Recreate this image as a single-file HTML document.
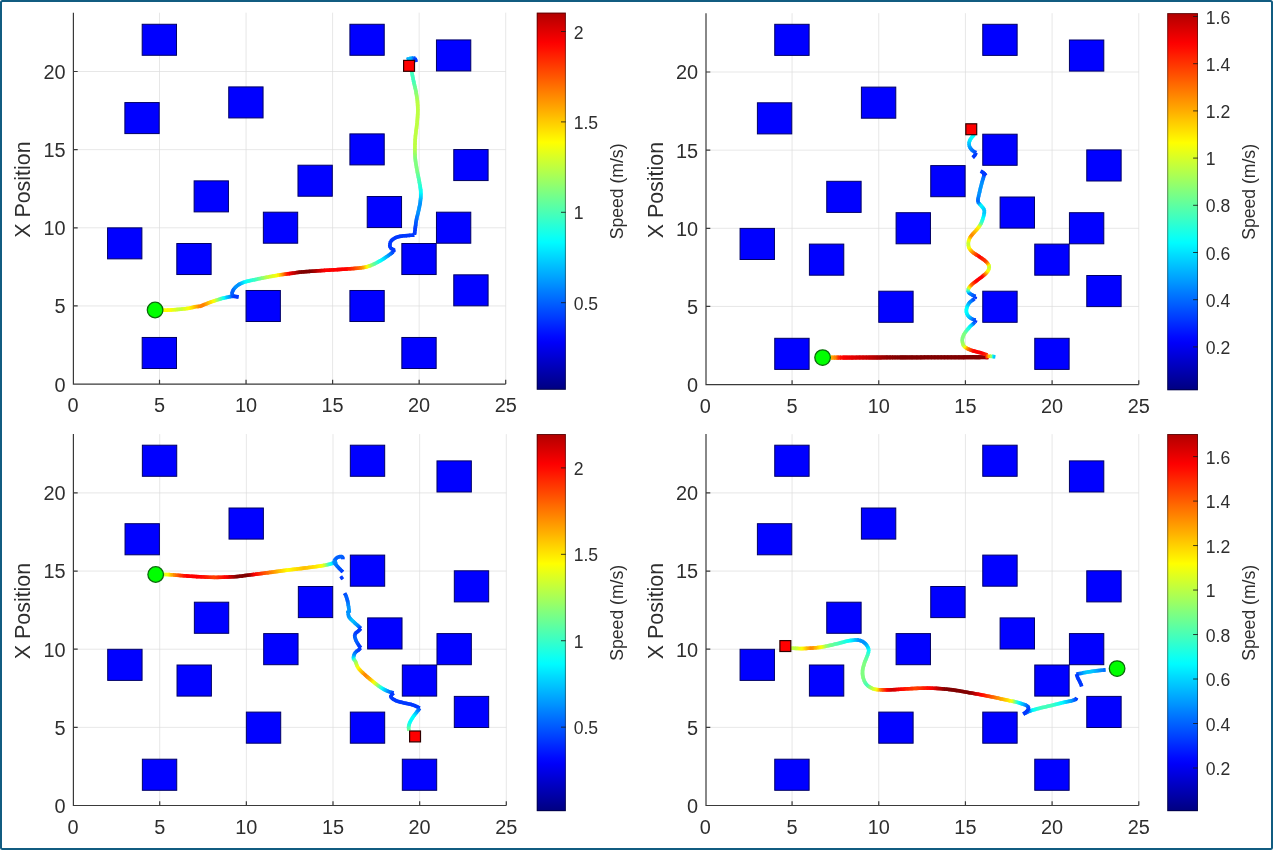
<!DOCTYPE html>
<html lang="en"><head><meta charset="utf-8"><title>Trajectories</title>
<style>html,body{margin:0;padding:0;background:#fff}body{width:1274px;height:851px;overflow:hidden}svg{display:block}text{font-family:'Liberation Sans', Arial, Helvetica, sans-serif;fill:#2e2e2e}</style></head><body>
<svg width="1274" height="851" viewBox="0 0 1274 851">
<defs><linearGradient id="jet" x1="0" y1="1" x2="0" y2="0">
<stop offset="0.0000" stop-color="#000080"/>
<stop offset="0.0156" stop-color="#00008f"/>
<stop offset="0.0312" stop-color="#00009e"/>
<stop offset="0.0469" stop-color="#0000ad"/>
<stop offset="0.0625" stop-color="#0000bc"/>
<stop offset="0.0781" stop-color="#0000cb"/>
<stop offset="0.0938" stop-color="#0000db"/>
<stop offset="0.1094" stop-color="#0000ea"/>
<stop offset="0.1250" stop-color="#0000f9"/>
<stop offset="0.1406" stop-color="#0009ff"/>
<stop offset="0.1562" stop-color="#0018ff"/>
<stop offset="0.1719" stop-color="#0027ff"/>
<stop offset="0.1875" stop-color="#0037ff"/>
<stop offset="0.2031" stop-color="#0046ff"/>
<stop offset="0.2188" stop-color="#0055ff"/>
<stop offset="0.2344" stop-color="#0064ff"/>
<stop offset="0.2500" stop-color="#0073ff"/>
<stop offset="0.2656" stop-color="#0082ff"/>
<stop offset="0.2812" stop-color="#0092ff"/>
<stop offset="0.2969" stop-color="#00a1ff"/>
<stop offset="0.3125" stop-color="#00b0ff"/>
<stop offset="0.3281" stop-color="#00bfff"/>
<stop offset="0.3438" stop-color="#00ceff"/>
<stop offset="0.3594" stop-color="#00ddff"/>
<stop offset="0.3750" stop-color="#00edff"/>
<stop offset="0.3906" stop-color="#00fcff"/>
<stop offset="0.4062" stop-color="#0cfff3"/>
<stop offset="0.4219" stop-color="#1bffe4"/>
<stop offset="0.4375" stop-color="#2affd5"/>
<stop offset="0.4531" stop-color="#3affc5"/>
<stop offset="0.4688" stop-color="#49ffb6"/>
<stop offset="0.4844" stop-color="#58ffa7"/>
<stop offset="0.5000" stop-color="#67ff98"/>
<stop offset="0.5156" stop-color="#76ff89"/>
<stop offset="0.5312" stop-color="#85ff7a"/>
<stop offset="0.5469" stop-color="#95ff6a"/>
<stop offset="0.5625" stop-color="#a4ff5b"/>
<stop offset="0.5781" stop-color="#b3ff4c"/>
<stop offset="0.5938" stop-color="#c2ff3d"/>
<stop offset="0.6094" stop-color="#d1ff2e"/>
<stop offset="0.6250" stop-color="#e0ff1f"/>
<stop offset="0.6406" stop-color="#f0ff0f"/>
<stop offset="0.6562" stop-color="#ffff00"/>
<stop offset="0.6719" stop-color="#fff000"/>
<stop offset="0.6875" stop-color="#ffe100"/>
<stop offset="0.7031" stop-color="#ffd200"/>
<stop offset="0.7188" stop-color="#ffc300"/>
<stop offset="0.7344" stop-color="#ffb300"/>
<stop offset="0.7500" stop-color="#ffa400"/>
<stop offset="0.7656" stop-color="#ff9500"/>
<stop offset="0.7812" stop-color="#ff8600"/>
<stop offset="0.7969" stop-color="#ff7700"/>
<stop offset="0.8125" stop-color="#ff6800"/>
<stop offset="0.8281" stop-color="#ff5800"/>
<stop offset="0.8438" stop-color="#ff4900"/>
<stop offset="0.8594" stop-color="#ff3a00"/>
<stop offset="0.8750" stop-color="#ff2b00"/>
<stop offset="0.8906" stop-color="#ff1c00"/>
<stop offset="0.9062" stop-color="#ff0c00"/>
<stop offset="0.9219" stop-color="#fc0000"/>
<stop offset="0.9375" stop-color="#ed0000"/>
<stop offset="0.9531" stop-color="#de0000"/>
<stop offset="0.9688" stop-color="#cf0000"/>
<stop offset="0.9844" stop-color="#c00000"/>
<stop offset="1.0000" stop-color="#b00000"/>
</linearGradient></defs>
<rect x="0" y="0" width="1274" height="851" fill="#fff"/>
<g><line x1="159.50" y1="12.70" x2="159.50" y2="384.10" stroke="#dcdcdc" stroke-width="0.7"/><line x1="246.05" y1="12.70" x2="246.05" y2="384.10" stroke="#dcdcdc" stroke-width="0.7"/><line x1="332.60" y1="12.70" x2="332.60" y2="384.10" stroke="#dcdcdc" stroke-width="0.7"/><line x1="419.15" y1="12.70" x2="419.15" y2="384.10" stroke="#dcdcdc" stroke-width="0.7"/><line x1="505.70" y1="12.70" x2="505.70" y2="384.10" stroke="#dcdcdc" stroke-width="0.7"/><line x1="73.40" y1="305.95" x2="505.70" y2="305.95" stroke="#dcdcdc" stroke-width="0.7"/><line x1="73.40" y1="227.80" x2="505.70" y2="227.80" stroke="#dcdcdc" stroke-width="0.7"/><line x1="73.40" y1="149.65" x2="505.70" y2="149.65" stroke="#dcdcdc" stroke-width="0.7"/><line x1="73.40" y1="71.50" x2="505.70" y2="71.50" stroke="#dcdcdc" stroke-width="0.7"/><rect x="142.19" y="24.27" width="34.32" height="31.02" fill="#0000ff" stroke="#000066" stroke-width="1"/><rect x="349.91" y="24.27" width="34.32" height="31.02" fill="#0000ff" stroke="#000066" stroke-width="1"/><rect x="436.46" y="39.93" width="34.32" height="31.02" fill="#0000ff" stroke="#000066" stroke-width="1"/><rect x="124.88" y="102.57" width="34.32" height="31.02" fill="#0000ff" stroke="#000066" stroke-width="1"/><rect x="228.74" y="86.91" width="34.32" height="31.02" fill="#0000ff" stroke="#000066" stroke-width="1"/><rect x="349.91" y="133.89" width="34.32" height="31.02" fill="#0000ff" stroke="#000066" stroke-width="1"/><rect x="453.77" y="149.55" width="34.32" height="31.02" fill="#0000ff" stroke="#000066" stroke-width="1"/><rect x="297.98" y="165.21" width="34.32" height="31.02" fill="#0000ff" stroke="#000066" stroke-width="1"/><rect x="194.12" y="180.87" width="34.32" height="31.02" fill="#0000ff" stroke="#000066" stroke-width="1"/><rect x="367.22" y="196.53" width="34.32" height="31.02" fill="#0000ff" stroke="#000066" stroke-width="1"/><rect x="263.36" y="212.19" width="34.32" height="31.02" fill="#0000ff" stroke="#000066" stroke-width="1"/><rect x="436.46" y="212.19" width="34.32" height="31.02" fill="#0000ff" stroke="#000066" stroke-width="1"/><rect x="107.57" y="227.85" width="34.32" height="31.02" fill="#0000ff" stroke="#000066" stroke-width="1"/><rect x="176.81" y="243.51" width="34.32" height="31.02" fill="#0000ff" stroke="#000066" stroke-width="1"/><rect x="401.84" y="243.51" width="34.32" height="31.02" fill="#0000ff" stroke="#000066" stroke-width="1"/><rect x="453.77" y="274.83" width="34.32" height="31.02" fill="#0000ff" stroke="#000066" stroke-width="1"/><rect x="246.05" y="290.49" width="34.32" height="31.02" fill="#0000ff" stroke="#000066" stroke-width="1"/><rect x="349.91" y="290.49" width="34.32" height="31.02" fill="#0000ff" stroke="#000066" stroke-width="1"/><rect x="142.19" y="337.47" width="34.32" height="31.02" fill="#0000ff" stroke="#000066" stroke-width="1"/><rect x="401.84" y="337.47" width="34.32" height="31.02" fill="#0000ff" stroke="#000066" stroke-width="1"/><g stroke-width="3.6" stroke-linecap="butt" fill="none"><line x1="160.2" y1="310.3" x2="161.4" y2="310.2" stroke="#ffff00"/><line x1="160.4" y1="310.2" x2="162.5" y2="310.2" stroke="#ffff00"/><line x1="161.5" y1="310.2" x2="163.7" y2="310.2" stroke="#ffff00"/><line x1="162.7" y1="310.2" x2="165.0" y2="310.2" stroke="#ffff00"/><line x1="164.0" y1="310.2" x2="166.5" y2="310.1" stroke="#ffff00"/><line x1="165.5" y1="310.2" x2="168.0" y2="310.1" stroke="#ffff00"/><line x1="167.0" y1="310.1" x2="169.4" y2="310.0" stroke="#ffff00"/><line x1="168.4" y1="310.1" x2="170.7" y2="310.0" stroke="#ffff00"/><line x1="169.7" y1="310.0" x2="172.0" y2="309.9" stroke="#fbff04"/><line x1="171.0" y1="310.0" x2="173.2" y2="309.8" stroke="#f3ff0c"/><line x1="172.2" y1="309.9" x2="174.5" y2="309.7" stroke="#eaff15"/><line x1="173.5" y1="309.8" x2="175.8" y2="309.6" stroke="#e2ff1d"/><line x1="174.8" y1="309.7" x2="177.1" y2="309.5" stroke="#daff25"/><line x1="176.1" y1="309.6" x2="178.3" y2="309.4" stroke="#d1ff2e"/><line x1="177.3" y1="309.5" x2="179.6" y2="309.3" stroke="#c9ff36"/><line x1="178.6" y1="309.4" x2="180.7" y2="309.2" stroke="#c1ff3e"/><line x1="179.8" y1="309.3" x2="182.1" y2="309.1" stroke="#c1ff3e"/><line x1="181.1" y1="309.2" x2="183.4" y2="308.9" stroke="#cbff34"/><line x1="182.4" y1="309.0" x2="184.7" y2="308.8" stroke="#d4ff2b"/><line x1="183.7" y1="308.9" x2="186.0" y2="308.7" stroke="#deff21"/><line x1="185.0" y1="308.8" x2="187.2" y2="308.5" stroke="#e7ff18"/><line x1="186.3" y1="308.6" x2="188.4" y2="308.3" stroke="#f1ff0e"/><line x1="187.4" y1="308.5" x2="189.5" y2="308.2" stroke="#faff05"/><line x1="188.6" y1="308.3" x2="191.0" y2="307.9" stroke="#fff800"/><line x1="190.0" y1="308.1" x2="192.3" y2="307.5" stroke="#ffeb00"/><line x1="191.3" y1="307.8" x2="193.5" y2="307.2" stroke="#ffde00"/><line x1="192.6" y1="307.4" x2="194.7" y2="306.8" stroke="#ffd100"/><line x1="193.7" y1="307.1" x2="195.8" y2="306.6" stroke="#ffc300"/><line x1="194.8" y1="306.8" x2="197.5" y2="306.5" stroke="#ffb300"/><line x1="196.5" y1="306.6" x2="199.0" y2="306.4" stroke="#ff9e00"/><line x1="198.0" y1="306.5" x2="200.5" y2="306.2" stroke="#ff8a00"/><line x1="199.5" y1="306.4" x2="201.9" y2="305.7" stroke="#ff8000"/><line x1="201.0" y1="306.0" x2="203.3" y2="305.0" stroke="#ff8000"/><line x1="202.4" y1="305.4" x2="204.7" y2="304.4" stroke="#ff8000"/><line x1="203.8" y1="304.8" x2="206.1" y2="303.9" stroke="#ff8a00"/><line x1="205.1" y1="304.3" x2="207.4" y2="303.3" stroke="#ff9e00"/><line x1="206.5" y1="303.7" x2="208.9" y2="302.8" stroke="#ffb300"/><line x1="208.0" y1="303.1" x2="210.2" y2="302.3" stroke="#ffc500"/><line x1="209.3" y1="302.6" x2="211.6" y2="301.8" stroke="#ffd600"/><line x1="210.7" y1="302.1" x2="213.1" y2="301.3" stroke="#ffe600"/><line x1="212.1" y1="301.6" x2="214.6" y2="300.8" stroke="#fff700"/><line x1="213.6" y1="301.1" x2="215.7" y2="300.4" stroke="#efff10"/><line x1="214.8" y1="300.7" x2="216.9" y2="300.0" stroke="#d0ff2f"/><line x1="216.0" y1="300.4" x2="218.1" y2="299.6" stroke="#b0ff4f"/><line x1="217.2" y1="299.9" x2="219.4" y2="299.2" stroke="#91ff6e"/><line x1="218.4" y1="299.6" x2="220.6" y2="298.9" stroke="#71ff8e"/><line x1="219.6" y1="299.2" x2="221.7" y2="298.6" stroke="#52ffad"/><line x1="220.7" y1="298.8" x2="223.2" y2="298.1" stroke="#33ffcc"/><line x1="222.3" y1="298.4" x2="224.7" y2="297.8" stroke="#14ffeb"/><line x1="223.7" y1="298.0" x2="226.1" y2="297.5" stroke="#00f5ff"/><line x1="225.1" y1="297.7" x2="227.3" y2="297.2" stroke="#00d6ff"/><line x1="226.3" y1="297.4" x2="228.7" y2="296.9" stroke="#00beff"/><line x1="227.7" y1="297.1" x2="229.8" y2="296.7" stroke="#00adff"/><line x1="228.8" y1="296.8" x2="230.9" y2="296.5" stroke="#009cff"/><line x1="229.9" y1="296.6" x2="232.6" y2="296.3" stroke="#007dff"/><line x1="231.6" y1="296.4" x2="234.4" y2="296.4" stroke="#004fff"/><line x1="233.4" y1="296.3" x2="235.6" y2="296.5" stroke="#0038ff"/><line x1="234.6" y1="296.4" x2="237.0" y2="296.7" stroke="#0038ff"/><line x1="236.0" y1="296.6" x2="238.3" y2="296.9" stroke="#0038ff"/><line x1="237.3" y1="296.7" x2="238.7" y2="296.9" stroke="#0038ff"/><line x1="233.5" y1="295.9" x2="232.3" y2="294.8" stroke="#0042ff"/><line x1="232.9" y1="295.5" x2="231.7" y2="293.5" stroke="#0057ff"/><line x1="231.9" y1="294.4" x2="232.1" y2="292.3" stroke="#0061ff"/><line x1="231.9" y1="293.3" x2="232.6" y2="291.1" stroke="#0061ff"/><line x1="232.3" y1="292.0" x2="233.3" y2="289.9" stroke="#0061ff"/><line x1="232.8" y1="290.8" x2="234.0" y2="288.8" stroke="#0069ff"/><line x1="233.4" y1="289.7" x2="234.8" y2="287.8" stroke="#007aff"/><line x1="234.2" y1="288.6" x2="235.9" y2="286.8" stroke="#008bff"/><line x1="235.2" y1="287.5" x2="236.7" y2="286.1" stroke="#0094ff"/><line x1="236.0" y1="286.7" x2="237.7" y2="285.3" stroke="#0094ff"/><line x1="236.9" y1="285.9" x2="238.7" y2="284.6" stroke="#0094ff"/><line x1="237.9" y1="285.1" x2="240.0" y2="283.9" stroke="#0094ff"/><line x1="239.1" y1="284.4" x2="241.0" y2="283.4" stroke="#009fff"/><line x1="240.1" y1="283.8" x2="242.2" y2="282.9" stroke="#00b4ff"/><line x1="241.3" y1="283.3" x2="243.4" y2="282.4" stroke="#00c9ff"/><line x1="242.5" y1="282.8" x2="244.8" y2="281.9" stroke="#00dfff"/><line x1="243.8" y1="282.2" x2="246.4" y2="281.5" stroke="#00f4ff"/><line x1="245.4" y1="281.7" x2="247.4" y2="281.2" stroke="#04fffb"/><line x1="246.4" y1="281.5" x2="248.5" y2="281.0" stroke="#0bfff4"/><line x1="247.5" y1="281.2" x2="249.6" y2="280.7" stroke="#12ffed"/><line x1="248.6" y1="280.9" x2="250.8" y2="280.4" stroke="#1affe5"/><line x1="249.8" y1="280.6" x2="252.0" y2="280.2" stroke="#21ffde"/><line x1="251.1" y1="280.4" x2="253.3" y2="279.9" stroke="#29ffd6"/><line x1="252.3" y1="280.1" x2="254.6" y2="279.7" stroke="#30ffcf"/><line x1="253.6" y1="279.9" x2="255.8" y2="279.4" stroke="#37ffc8"/><line x1="254.8" y1="279.6" x2="257.0" y2="279.2" stroke="#3fffc0"/><line x1="256.0" y1="279.4" x2="258.3" y2="278.9" stroke="#4affb5"/><line x1="257.3" y1="279.1" x2="259.6" y2="278.6" stroke="#59ffa6"/><line x1="258.7" y1="278.8" x2="261.0" y2="278.4" stroke="#69ff96"/><line x1="260.0" y1="278.6" x2="262.3" y2="278.1" stroke="#78ff87"/><line x1="261.3" y1="278.3" x2="263.6" y2="277.9" stroke="#87ff78"/><line x1="262.6" y1="278.1" x2="264.9" y2="277.6" stroke="#96ff69"/><line x1="264.0" y1="277.8" x2="266.3" y2="277.4" stroke="#a6ff59"/><line x1="265.3" y1="277.6" x2="267.6" y2="277.1" stroke="#b5ff4a"/><line x1="266.6" y1="277.3" x2="268.9" y2="276.9" stroke="#c1ff3e"/><line x1="268.0" y1="277.1" x2="270.3" y2="276.6" stroke="#c9ff36"/><line x1="269.4" y1="276.8" x2="271.8" y2="276.3" stroke="#d1ff2e"/><line x1="270.8" y1="276.5" x2="273.2" y2="276.1" stroke="#daff25"/><line x1="272.2" y1="276.3" x2="274.6" y2="275.8" stroke="#e2ff1d"/><line x1="273.6" y1="276.0" x2="275.9" y2="275.6" stroke="#eaff15"/><line x1="274.9" y1="275.8" x2="277.1" y2="275.4" stroke="#f3ff0c"/><line x1="276.1" y1="275.5" x2="278.2" y2="275.2" stroke="#fbff04"/><line x1="277.2" y1="275.3" x2="279.9" y2="274.9" stroke="#ffef00"/><line x1="278.9" y1="275.0" x2="281.3" y2="274.7" stroke="#ffcf00"/><line x1="280.3" y1="274.8" x2="282.5" y2="274.5" stroke="#ffaf00"/><line x1="281.5" y1="274.7" x2="283.8" y2="274.3" stroke="#ff8f00"/><line x1="282.8" y1="274.5" x2="284.9" y2="274.2" stroke="#ff7300"/><line x1="283.9" y1="274.3" x2="285.9" y2="274.1" stroke="#ff5900"/><line x1="284.9" y1="274.2" x2="287.0" y2="273.9" stroke="#ff4000"/><line x1="286.0" y1="274.1" x2="288.3" y2="273.8" stroke="#ff2600"/><line x1="287.3" y1="273.9" x2="289.8" y2="273.6" stroke="#ff0d00"/><line x1="288.8" y1="273.7" x2="290.9" y2="273.4" stroke="#f80000"/><line x1="289.9" y1="273.6" x2="292.0" y2="273.2" stroke="#ea0000"/><line x1="291.1" y1="273.4" x2="293.3" y2="273.1" stroke="#dc0000"/><line x1="292.3" y1="273.2" x2="294.7" y2="272.9" stroke="#cd0000"/><line x1="293.7" y1="273.0" x2="296.0" y2="272.7" stroke="#bf0000"/><line x1="295.0" y1="272.8" x2="297.4" y2="272.5" stroke="#b10000"/><line x1="296.4" y1="272.6" x2="298.8" y2="272.3" stroke="#a30000"/><line x1="297.8" y1="272.4" x2="300.1" y2="272.1" stroke="#950000"/><line x1="299.1" y1="272.3" x2="301.4" y2="272.0" stroke="#870000"/><line x1="300.4" y1="272.1" x2="302.6" y2="271.9" stroke="#800000"/><line x1="301.6" y1="272.0" x2="303.9" y2="271.8" stroke="#800000"/><line x1="302.9" y1="271.9" x2="305.0" y2="271.7" stroke="#800000"/><line x1="304.0" y1="271.8" x2="306.2" y2="271.6" stroke="#800000"/><line x1="305.2" y1="271.7" x2="307.3" y2="271.5" stroke="#800000"/><line x1="306.3" y1="271.6" x2="308.6" y2="271.5" stroke="#800000"/><line x1="307.6" y1="271.5" x2="309.9" y2="271.4" stroke="#800000"/><line x1="308.9" y1="271.4" x2="311.4" y2="271.3" stroke="#800000"/><line x1="310.4" y1="271.3" x2="312.5" y2="271.2" stroke="#850000"/><line x1="311.5" y1="271.3" x2="313.6" y2="271.1" stroke="#8f0000"/><line x1="312.6" y1="271.2" x2="314.7" y2="271.0" stroke="#9a0000"/><line x1="313.7" y1="271.1" x2="315.9" y2="271.0" stroke="#a50000"/><line x1="314.9" y1="271.0" x2="317.1" y2="270.9" stroke="#af0000"/><line x1="316.1" y1="271.0" x2="318.3" y2="270.8" stroke="#ba0000"/><line x1="317.3" y1="270.9" x2="319.6" y2="270.7" stroke="#c50000"/><line x1="318.6" y1="270.8" x2="320.9" y2="270.6" stroke="#cf0000"/><line x1="319.9" y1="270.7" x2="322.2" y2="270.5" stroke="#da0000"/><line x1="321.2" y1="270.6" x2="323.6" y2="270.5" stroke="#e40000"/><line x1="322.6" y1="270.5" x2="325.0" y2="270.4" stroke="#ef0000"/><line x1="324.0" y1="270.4" x2="326.5" y2="270.3" stroke="#fa0000"/><line x1="325.5" y1="270.3" x2="327.6" y2="270.2" stroke="#ff0000"/><line x1="326.6" y1="270.3" x2="328.8" y2="270.1" stroke="#ff0000"/><line x1="327.8" y1="270.2" x2="330.0" y2="270.1" stroke="#ff0000"/><line x1="329.0" y1="270.1" x2="331.3" y2="270.0" stroke="#ff0000"/><line x1="330.3" y1="270.0" x2="332.6" y2="269.9" stroke="#ff0000"/><line x1="331.6" y1="270.0" x2="333.9" y2="269.8" stroke="#ff0000"/><line x1="332.9" y1="269.9" x2="335.2" y2="269.7" stroke="#ff0000"/><line x1="334.2" y1="269.8" x2="336.5" y2="269.7" stroke="#ff0000"/><line x1="335.5" y1="269.7" x2="337.9" y2="269.6" stroke="#ff0000"/><line x1="336.9" y1="269.6" x2="339.2" y2="269.5" stroke="#ff0000"/><line x1="338.2" y1="269.6" x2="340.5" y2="269.4" stroke="#ff0000"/><line x1="339.5" y1="269.5" x2="341.8" y2="269.3" stroke="#ff0000"/><line x1="340.8" y1="269.4" x2="343.0" y2="269.3" stroke="#ff0000"/><line x1="342.1" y1="269.3" x2="344.3" y2="269.2" stroke="#ff0000"/><line x1="343.3" y1="269.2" x2="345.5" y2="269.1" stroke="#ff0000"/><line x1="344.5" y1="269.2" x2="346.6" y2="269.0" stroke="#ff0000"/><line x1="345.6" y1="269.1" x2="348.0" y2="268.9" stroke="#ff0500"/><line x1="347.0" y1="269.0" x2="349.5" y2="268.8" stroke="#ff1000"/><line x1="348.5" y1="268.9" x2="350.9" y2="268.7" stroke="#ff1b00"/><line x1="349.9" y1="268.8" x2="352.3" y2="268.6" stroke="#ff2500"/><line x1="351.3" y1="268.7" x2="353.7" y2="268.5" stroke="#ff3000"/><line x1="352.7" y1="268.6" x2="355.0" y2="268.4" stroke="#ff3a00"/><line x1="354.0" y1="268.5" x2="356.3" y2="268.3" stroke="#ff4500"/><line x1="355.3" y1="268.4" x2="357.5" y2="268.2" stroke="#ff5000"/><line x1="356.5" y1="268.3" x2="358.6" y2="268.1" stroke="#ff5a00"/><line x1="357.6" y1="268.2" x2="359.7" y2="268.0" stroke="#ff6500"/><line x1="358.7" y1="268.0" x2="360.7" y2="267.8" stroke="#ff7000"/><line x1="359.7" y1="267.9" x2="361.7" y2="267.7" stroke="#ff7a00"/><line x1="360.7" y1="267.9" x2="363.5" y2="267.5" stroke="#ff8c00"/><line x1="362.5" y1="267.6" x2="364.9" y2="267.2" stroke="#ffa600"/><line x1="363.9" y1="267.4" x2="365.9" y2="267.0" stroke="#ffbf00"/><line x1="365.0" y1="267.2" x2="366.9" y2="266.7" stroke="#ffd900"/><line x1="365.9" y1="266.9" x2="367.9" y2="266.4" stroke="#fff200"/><line x1="367.0" y1="266.7" x2="369.2" y2="266.1" stroke="#efff10"/><line x1="368.2" y1="266.3" x2="370.3" y2="265.7" stroke="#cfff30"/><line x1="369.3" y1="266.0" x2="371.4" y2="265.2" stroke="#afff50"/><line x1="370.5" y1="265.6" x2="372.9" y2="264.6" stroke="#8fff70"/><line x1="372.0" y1="265.0" x2="373.8" y2="264.1" stroke="#78ff87"/><line x1="372.9" y1="264.6" x2="374.9" y2="263.6" stroke="#68ff97"/><line x1="374.0" y1="264.1" x2="376.0" y2="263.1" stroke="#58ffa7"/><line x1="375.1" y1="263.5" x2="377.1" y2="262.5" stroke="#48ffb7"/><line x1="376.3" y1="262.9" x2="378.3" y2="261.9" stroke="#38ffc7"/><line x1="377.4" y1="262.3" x2="379.5" y2="261.2" stroke="#28ffd7"/><line x1="378.6" y1="261.7" x2="380.6" y2="260.6" stroke="#18ffe7"/><line x1="379.8" y1="261.1" x2="381.7" y2="260.0" stroke="#08fff7"/><line x1="380.8" y1="260.5" x2="382.9" y2="259.3" stroke="#00f7ff"/><line x1="382.0" y1="259.8" x2="384.0" y2="258.5" stroke="#00e8ff"/><line x1="383.2" y1="259.1" x2="385.2" y2="257.8" stroke="#00d9ff"/><line x1="384.3" y1="258.3" x2="386.3" y2="257.0" stroke="#00c9ff"/><line x1="385.4" y1="257.6" x2="387.3" y2="256.3" stroke="#00baff"/><line x1="386.5" y1="256.9" x2="388.3" y2="255.6" stroke="#00abff"/><line x1="387.5" y1="256.2" x2="389.2" y2="254.9" stroke="#009cff"/><line x1="388.4" y1="255.5" x2="390.6" y2="253.9" stroke="#0088ff"/><line x1="389.8" y1="254.5" x2="391.9" y2="252.8" stroke="#0071ff"/><line x1="391.1" y1="253.5" x2="393.0" y2="252.0" stroke="#005bff"/><line x1="392.2" y1="252.6" x2="393.3" y2="251.7" stroke="#0044ff"/><line x1="393.3" y1="251.7" x2="394.6" y2="249.8" stroke="#0038ff"/><line x1="394.7" y1="250.5" x2="393.0" y2="249.3" stroke="#0038ff"/><line x1="393.8" y1="249.8" x2="391.5" y2="248.7" stroke="#0038ff"/><line x1="392.4" y1="249.2" x2="390.4" y2="247.9" stroke="#0038ff"/><line x1="391.1" y1="248.6" x2="389.7" y2="246.4" stroke="#0038ff"/><line x1="390.0" y1="247.3" x2="389.7" y2="244.7" stroke="#0038ff"/><line x1="389.8" y1="245.7" x2="390.0" y2="243.3" stroke="#0038ff"/><line x1="389.8" y1="244.2" x2="390.5" y2="241.7" stroke="#0038ff"/><line x1="390.1" y1="242.6" x2="391.6" y2="240.2" stroke="#0038ff"/><line x1="390.9" y1="241.0" x2="392.4" y2="239.6" stroke="#0038ff"/><line x1="391.7" y1="240.3" x2="393.3" y2="238.9" stroke="#0038ff"/><line x1="392.5" y1="239.5" x2="394.4" y2="238.3" stroke="#0038ff"/><line x1="393.6" y1="238.8" x2="395.6" y2="237.7" stroke="#0038ff"/><line x1="394.7" y1="238.1" x2="396.8" y2="237.1" stroke="#0038ff"/><line x1="395.9" y1="237.5" x2="398.1" y2="236.7" stroke="#0038ff"/><line x1="397.1" y1="237.0" x2="399.2" y2="236.4" stroke="#0038ff"/><line x1="398.2" y1="236.7" x2="400.4" y2="236.2" stroke="#0038ff"/><line x1="399.4" y1="236.4" x2="401.7" y2="236.1" stroke="#0038ff"/><line x1="400.7" y1="236.2" x2="403.0" y2="235.9" stroke="#0038ff"/><line x1="402.0" y1="236.0" x2="404.3" y2="235.8" stroke="#0038ff"/><line x1="403.4" y1="235.9" x2="405.6" y2="235.7" stroke="#0038ff"/><line x1="404.6" y1="235.8" x2="406.9" y2="235.6" stroke="#0038ff"/><line x1="405.9" y1="235.7" x2="408.4" y2="235.5" stroke="#0038ff"/><line x1="407.4" y1="235.5" x2="409.9" y2="235.4" stroke="#0038ff"/><line x1="408.9" y1="235.4" x2="411.5" y2="235.3" stroke="#0038ff"/><line x1="410.5" y1="235.3" x2="412.9" y2="235.2" stroke="#0038ff"/><line x1="411.9" y1="235.3" x2="414.1" y2="235.1" stroke="#0038ff"/><line x1="413.1" y1="235.2" x2="414.4" y2="235.1" stroke="#0038ff"/><line x1="414.4" y1="234.9" x2="414.5" y2="233.6" stroke="#0038ff"/><line x1="414.4" y1="234.6" x2="414.7" y2="232.5" stroke="#0038ff"/><line x1="414.6" y1="233.5" x2="414.9" y2="231.2" stroke="#0038ff"/><line x1="414.7" y1="232.2" x2="415.1" y2="229.7" stroke="#0038ff"/><line x1="414.9" y1="230.7" x2="415.3" y2="228.2" stroke="#0038ff"/><line x1="415.1" y1="229.2" x2="415.4" y2="227.1" stroke="#003bff"/><line x1="415.3" y1="228.1" x2="415.5" y2="226.0" stroke="#0041ff"/><line x1="415.4" y1="227.0" x2="415.7" y2="224.8" stroke="#0047ff"/><line x1="415.6" y1="225.8" x2="415.8" y2="223.5" stroke="#004dff"/><line x1="415.7" y1="224.5" x2="416.0" y2="222.3" stroke="#0052ff"/><line x1="415.9" y1="223.3" x2="416.2" y2="221.0" stroke="#0058ff"/><line x1="416.0" y1="222.0" x2="416.4" y2="219.8" stroke="#005eff"/><line x1="416.2" y1="220.8" x2="416.7" y2="218.6" stroke="#0065ff"/><line x1="416.5" y1="219.6" x2="416.9" y2="217.4" stroke="#006cff"/><line x1="416.7" y1="218.4" x2="417.2" y2="216.2" stroke="#0073ff"/><line x1="417.0" y1="217.2" x2="417.5" y2="215.1" stroke="#007aff"/><line x1="417.3" y1="216.0" x2="417.8" y2="213.9" stroke="#0082ff"/><line x1="417.6" y1="214.8" x2="418.1" y2="212.6" stroke="#0089ff"/><line x1="417.9" y1="213.6" x2="418.4" y2="211.3" stroke="#0090ff"/><line x1="418.2" y1="212.3" x2="418.7" y2="210.2" stroke="#0094ff"/><line x1="418.5" y1="211.2" x2="418.9" y2="209.0" stroke="#0094ff"/><line x1="418.7" y1="210.0" x2="419.2" y2="207.7" stroke="#0094ff"/><line x1="419.0" y1="208.7" x2="419.5" y2="206.5" stroke="#0094ff"/><line x1="419.3" y1="207.5" x2="419.7" y2="205.2" stroke="#0094ff"/><line x1="419.6" y1="206.2" x2="420.0" y2="204.0" stroke="#0094ff"/><line x1="419.8" y1="205.0" x2="420.2" y2="202.7" stroke="#0094ff"/><line x1="420.0" y1="203.7" x2="420.4" y2="201.5" stroke="#0094ff"/><line x1="420.2" y1="202.5" x2="420.5" y2="200.3" stroke="#009bff"/><line x1="420.4" y1="201.2" x2="420.6" y2="199.0" stroke="#00a8ff"/><line x1="420.5" y1="200.0" x2="420.7" y2="197.8" stroke="#00b5ff"/><line x1="420.7" y1="198.8" x2="420.8" y2="196.6" stroke="#00c3ff"/><line x1="420.8" y1="197.6" x2="420.9" y2="195.4" stroke="#00d0ff"/><line x1="420.8" y1="196.4" x2="420.9" y2="194.2" stroke="#00deff"/><line x1="420.9" y1="195.2" x2="420.9" y2="192.9" stroke="#00ebff"/><line x1="420.9" y1="193.9" x2="420.8" y2="191.6" stroke="#00f8ff"/><line x1="420.9" y1="192.6" x2="420.7" y2="190.4" stroke="#04fffb"/><line x1="420.8" y1="191.4" x2="420.6" y2="189.2" stroke="#0bfff4"/><line x1="420.7" y1="190.2" x2="420.4" y2="188.0" stroke="#12ffed"/><line x1="420.5" y1="189.0" x2="420.2" y2="186.7" stroke="#1affe5"/><line x1="420.4" y1="187.7" x2="420.0" y2="185.4" stroke="#21ffde"/><line x1="420.2" y1="186.4" x2="419.8" y2="184.2" stroke="#29ffd6"/><line x1="419.9" y1="185.1" x2="419.5" y2="182.9" stroke="#30ffcf"/><line x1="419.7" y1="183.9" x2="419.3" y2="181.6" stroke="#37ffc8"/><line x1="419.5" y1="182.6" x2="419.1" y2="180.4" stroke="#3fffc0"/><line x1="419.2" y1="181.3" x2="418.8" y2="179.1" stroke="#46ffb9"/><line x1="419.0" y1="180.1" x2="418.6" y2="177.9" stroke="#4cffb3"/><line x1="418.8" y1="178.8" x2="418.3" y2="176.6" stroke="#53ffac"/><line x1="418.5" y1="177.6" x2="418.1" y2="175.3" stroke="#5affa5"/><line x1="418.3" y1="176.3" x2="417.8" y2="174.1" stroke="#61ff9e"/><line x1="418.0" y1="175.1" x2="417.5" y2="172.8" stroke="#68ff97"/><line x1="417.7" y1="173.8" x2="417.3" y2="171.6" stroke="#6eff90"/><line x1="417.5" y1="172.6" x2="417.0" y2="170.3" stroke="#75ff8a"/><line x1="417.2" y1="171.3" x2="416.8" y2="169.1" stroke="#7cff83"/><line x1="417.0" y1="170.1" x2="416.6" y2="167.8" stroke="#80ff80"/><line x1="416.8" y1="168.8" x2="416.4" y2="166.6" stroke="#80ff80"/><line x1="416.5" y1="167.6" x2="416.2" y2="165.3" stroke="#80ff80"/><line x1="416.3" y1="166.3" x2="416.0" y2="164.1" stroke="#80ff80"/><line x1="416.1" y1="165.1" x2="415.8" y2="162.8" stroke="#80ff80"/><line x1="415.9" y1="163.8" x2="415.6" y2="161.6" stroke="#80ff80"/><line x1="415.7" y1="162.6" x2="415.4" y2="160.3" stroke="#80ff80"/><line x1="415.5" y1="161.3" x2="415.3" y2="159.1" stroke="#80ff80"/><line x1="415.4" y1="160.1" x2="415.2" y2="157.8" stroke="#80ff80"/><line x1="415.3" y1="158.8" x2="415.1" y2="156.6" stroke="#83ff7c"/><line x1="415.1" y1="157.6" x2="415.0" y2="155.3" stroke="#8aff75"/><line x1="415.1" y1="156.3" x2="415.0" y2="154.1" stroke="#90ff6f"/><line x1="415.0" y1="155.1" x2="414.9" y2="152.8" stroke="#97ff68"/><line x1="415.0" y1="153.8" x2="414.9" y2="151.6" stroke="#9eff61"/><line x1="414.9" y1="152.6" x2="414.9" y2="150.3" stroke="#a5ff5a"/><line x1="414.9" y1="151.3" x2="414.9" y2="149.0" stroke="#acff53"/><line x1="414.9" y1="150.0" x2="414.9" y2="147.8" stroke="#b3ff4c"/><line x1="414.9" y1="148.8" x2="414.9" y2="146.5" stroke="#b9ff46"/><line x1="414.9" y1="147.5" x2="415.0" y2="145.3" stroke="#bdff42"/><line x1="414.9" y1="146.3" x2="415.0" y2="144.0" stroke="#bdff42"/><line x1="415.0" y1="145.0" x2="415.0" y2="142.8" stroke="#bdff42"/><line x1="415.0" y1="143.8" x2="415.1" y2="141.5" stroke="#bdff42"/><line x1="415.1" y1="142.5" x2="415.2" y2="140.3" stroke="#bdff42"/><line x1="415.1" y1="141.3" x2="415.2" y2="139.0" stroke="#bdff42"/><line x1="415.2" y1="140.0" x2="415.3" y2="137.8" stroke="#bdff42"/><line x1="415.3" y1="138.8" x2="415.4" y2="136.5" stroke="#bdff42"/><line x1="415.3" y1="137.5" x2="415.5" y2="135.3" stroke="#bdff42"/><line x1="415.4" y1="136.3" x2="415.7" y2="134.0" stroke="#bdff42"/><line x1="415.6" y1="135.0" x2="415.8" y2="132.8" stroke="#bdff42"/><line x1="415.7" y1="133.8" x2="416.0" y2="131.5" stroke="#bdff42"/><line x1="415.9" y1="132.5" x2="416.2" y2="130.3" stroke="#bdff42"/><line x1="416.0" y1="131.3" x2="416.3" y2="129.0" stroke="#bdff42"/><line x1="416.2" y1="130.0" x2="416.5" y2="127.8" stroke="#bdff42"/><line x1="416.4" y1="128.8" x2="416.7" y2="126.5" stroke="#bdff42"/><line x1="416.5" y1="127.5" x2="416.8" y2="125.3" stroke="#bdff42"/><line x1="416.7" y1="126.3" x2="417.0" y2="124.0" stroke="#bdff42"/><line x1="416.9" y1="125.0" x2="417.1" y2="122.8" stroke="#bdff42"/><line x1="417.0" y1="123.8" x2="417.2" y2="121.5" stroke="#bdff42"/><line x1="417.1" y1="122.5" x2="417.3" y2="120.3" stroke="#bdff42"/><line x1="417.2" y1="121.2" x2="417.4" y2="119.0" stroke="#bdff42"/><line x1="417.3" y1="120.0" x2="417.5" y2="117.7" stroke="#bdff42"/><line x1="417.4" y1="118.7" x2="417.6" y2="116.5" stroke="#bdff42"/><line x1="417.5" y1="117.5" x2="417.7" y2="115.2" stroke="#bdff42"/><line x1="417.6" y1="116.2" x2="417.7" y2="114.0" stroke="#bdff42"/><line x1="417.7" y1="115.0" x2="417.8" y2="112.7" stroke="#bdff42"/><line x1="417.7" y1="113.7" x2="417.8" y2="111.5" stroke="#bdff42"/><line x1="417.8" y1="112.5" x2="417.8" y2="110.2" stroke="#bdff42"/><line x1="417.8" y1="111.2" x2="417.8" y2="109.0" stroke="#bdff42"/><line x1="417.8" y1="110.0" x2="417.8" y2="107.7" stroke="#bdff42"/><line x1="417.8" y1="108.7" x2="417.7" y2="106.5" stroke="#bdff42"/><line x1="417.8" y1="107.5" x2="417.7" y2="105.2" stroke="#bdff42"/><line x1="417.7" y1="106.2" x2="417.6" y2="104.0" stroke="#bdff42"/><line x1="417.7" y1="105.0" x2="417.5" y2="102.7" stroke="#bdff42"/><line x1="417.6" y1="103.7" x2="417.4" y2="101.5" stroke="#bdff42"/><line x1="417.5" y1="102.5" x2="417.3" y2="100.2" stroke="#b9ff46"/><line x1="417.4" y1="101.2" x2="417.1" y2="98.9" stroke="#b3ff4c"/><line x1="417.3" y1="99.9" x2="417.0" y2="97.7" stroke="#acff53"/><line x1="417.1" y1="98.7" x2="416.8" y2="96.4" stroke="#a5ff5a"/><line x1="416.9" y1="97.4" x2="416.6" y2="95.1" stroke="#9eff61"/><line x1="416.7" y1="96.1" x2="416.3" y2="93.9" stroke="#97ff68"/><line x1="416.5" y1="94.8" x2="416.1" y2="92.6" stroke="#90ff6f"/><line x1="416.3" y1="93.6" x2="415.9" y2="91.4" stroke="#8aff75"/><line x1="416.1" y1="92.4" x2="415.7" y2="90.2" stroke="#83ff7c"/><line x1="415.9" y1="91.2" x2="415.4" y2="88.9" stroke="#7cff83"/><line x1="415.6" y1="89.9" x2="415.1" y2="87.6" stroke="#74ff8b"/><line x1="415.3" y1="88.6" x2="414.8" y2="86.3" stroke="#6cff93"/><line x1="415.0" y1="87.3" x2="414.5" y2="85.0" stroke="#65ff9a"/><line x1="414.7" y1="86.0" x2="414.2" y2="83.8" stroke="#5dffa2"/><line x1="414.4" y1="84.8" x2="413.9" y2="82.6" stroke="#55ffaa"/><line x1="414.2" y1="83.6" x2="413.7" y2="81.4" stroke="#4effb1"/><line x1="413.9" y1="82.4" x2="413.4" y2="80.4" stroke="#46ffb9"/><line x1="413.6" y1="81.3" x2="413.1" y2="78.7" stroke="#42ffbd"/><line x1="413.3" y1="79.7" x2="412.8" y2="77.2" stroke="#42ffbd"/><line x1="413.0" y1="78.1" x2="412.5" y2="75.7" stroke="#42ffbd"/><line x1="412.7" y1="76.7" x2="412.2" y2="74.4" stroke="#42ffbd"/><line x1="412.4" y1="75.4" x2="412.0" y2="73.3" stroke="#42ffbd"/><line x1="412.2" y1="74.3" x2="411.7" y2="71.2" stroke="#42ffbd"/><line x1="411.8" y1="72.2" x2="411.5" y2="70.4" stroke="#42ffbd"/><line x1="406.6" y1="59.5" x2="408.5" y2="58.9" stroke="#00a1ff"/><line x1="407.5" y1="59.2" x2="410.3" y2="58.4" stroke="#00baff"/><line x1="409.3" y1="58.6" x2="411.7" y2="58.2" stroke="#00baff"/><line x1="410.7" y1="58.3" x2="413.1" y2="58.1" stroke="#00a1ff"/><line x1="412.1" y1="58.2" x2="414.5" y2="58.2" stroke="#007dff"/><line x1="413.5" y1="58.1" x2="415.6" y2="58.6" stroke="#004fff"/><line x1="415.0" y1="58.0" x2="415.9" y2="60.7" stroke="#0038ff"/><line x1="415.7" y1="59.7" x2="416.1" y2="62.1" stroke="#0038ff"/></g>
<circle cx="155.1" cy="310.0" r="7.8" fill="#00ff00" stroke="#0a6a0a" stroke-width="1.3"/>
<rect x="403.6" y="60.4" width="10.9" height="10.9" fill="#ff0000" stroke="#300000" stroke-width="1.2"/>
<path d="M73.40 12.70V384.10H505.70" fill="none" stroke="#3a3a3a" stroke-width="1.2"/>
<path d="M159.50 384.10v-4.3M246.05 384.10v-4.3M332.60 384.10v-4.3M419.15 384.10v-4.3M505.70 384.10v-4.3M73.40 305.95h4.3M73.40 227.80h4.3M73.40 149.65h4.3M73.40 71.50h4.3" fill="none" stroke="#3a3a3a" stroke-width="1.2"/>
<g font-size="19.90" text-anchor="middle">
<text x="73.0" y="412.4">0</text>
<text x="159.5" y="412.4">5</text>
<text x="246.1" y="412.4">10</text>
<text x="332.6" y="412.4">15</text>
<text x="419.1" y="412.4">20</text>
<text x="505.7" y="412.4">25</text>
</g><g font-size="19.90" text-anchor="end">
<text x="65.5" y="391.5">0</text>
<text x="65.5" y="313.4">5</text>
<text x="65.5" y="235.2">10</text>
<text x="65.5" y="157.1">15</text>
<text x="65.5" y="78.9">20</text>
</g>
<text font-size="21.40" text-anchor="middle" transform="translate(30.1 189.6) rotate(-90)">X Position</text>
<rect x="536.80" y="12.70" width="29.00" height="377.00" fill="url(#jet)"/>
<rect x="537.20" y="13.10" width="28.20" height="376.20" stroke="#000" stroke-opacity="0.45" stroke-width="1" fill="none"/>
<g font-size="17.60">
<text x="573.7" y="309.7">0.5</text>
<text x="573.7" y="219.3">1</text>
<text x="573.7" y="128.9">1.5</text>
<text x="573.7" y="38.5">2</text>
</g>
<path d="M565.80 302.70h-4.8M565.80 212.30h-4.8M565.80 121.90h-4.8M565.80 31.50h-4.8" stroke="#1a1a1a" stroke-opacity="0.85" stroke-width="1" fill="none"/>
<text font-size="17.60" text-anchor="middle" transform="translate(622.6 191.4) rotate(-90)">Speed (m/s)</text>
</g>
<g><line x1="792.08" y1="13.20" x2="792.08" y2="384.60" stroke="#dcdcdc" stroke-width="0.7"/><line x1="878.75" y1="13.20" x2="878.75" y2="384.60" stroke="#dcdcdc" stroke-width="0.7"/><line x1="965.42" y1="13.20" x2="965.42" y2="384.60" stroke="#dcdcdc" stroke-width="0.7"/><line x1="1052.10" y1="13.20" x2="1052.10" y2="384.60" stroke="#dcdcdc" stroke-width="0.7"/><line x1="1138.78" y1="13.20" x2="1138.78" y2="384.60" stroke="#dcdcdc" stroke-width="0.7"/><line x1="706.00" y1="306.45" x2="1138.78" y2="306.45" stroke="#dcdcdc" stroke-width="0.7"/><line x1="706.00" y1="228.30" x2="1138.78" y2="228.30" stroke="#dcdcdc" stroke-width="0.7"/><line x1="706.00" y1="150.15" x2="1138.78" y2="150.15" stroke="#dcdcdc" stroke-width="0.7"/><line x1="706.00" y1="72.00" x2="1138.78" y2="72.00" stroke="#dcdcdc" stroke-width="0.7"/><rect x="774.74" y="24.30" width="34.37" height="31.10" fill="#0000ff" stroke="#000066" stroke-width="1"/><rect x="982.76" y="24.30" width="34.37" height="31.10" fill="#0000ff" stroke="#000066" stroke-width="1"/><rect x="1069.43" y="40.00" width="34.37" height="31.10" fill="#0000ff" stroke="#000066" stroke-width="1"/><rect x="757.40" y="102.80" width="34.37" height="31.10" fill="#0000ff" stroke="#000066" stroke-width="1"/><rect x="861.41" y="87.10" width="34.37" height="31.10" fill="#0000ff" stroke="#000066" stroke-width="1"/><rect x="982.76" y="134.20" width="34.37" height="31.10" fill="#0000ff" stroke="#000066" stroke-width="1"/><rect x="1086.77" y="149.90" width="34.37" height="31.10" fill="#0000ff" stroke="#000066" stroke-width="1"/><rect x="930.75" y="165.60" width="34.37" height="31.10" fill="#0000ff" stroke="#000066" stroke-width="1"/><rect x="826.75" y="181.30" width="34.37" height="31.10" fill="#0000ff" stroke="#000066" stroke-width="1"/><rect x="1000.10" y="197.00" width="34.37" height="31.10" fill="#0000ff" stroke="#000066" stroke-width="1"/><rect x="896.09" y="212.70" width="34.37" height="31.10" fill="#0000ff" stroke="#000066" stroke-width="1"/><rect x="1069.43" y="212.70" width="34.37" height="31.10" fill="#0000ff" stroke="#000066" stroke-width="1"/><rect x="740.07" y="228.40" width="34.37" height="31.10" fill="#0000ff" stroke="#000066" stroke-width="1"/><rect x="809.41" y="244.10" width="34.37" height="31.10" fill="#0000ff" stroke="#000066" stroke-width="1"/><rect x="1034.76" y="244.10" width="34.37" height="31.10" fill="#0000ff" stroke="#000066" stroke-width="1"/><rect x="1086.77" y="275.50" width="34.37" height="31.10" fill="#0000ff" stroke="#000066" stroke-width="1"/><rect x="878.75" y="291.20" width="34.37" height="31.10" fill="#0000ff" stroke="#000066" stroke-width="1"/><rect x="982.76" y="291.20" width="34.37" height="31.10" fill="#0000ff" stroke="#000066" stroke-width="1"/><rect x="774.74" y="338.30" width="34.37" height="31.10" fill="#0000ff" stroke="#000066" stroke-width="1"/><rect x="1034.76" y="338.30" width="34.37" height="31.10" fill="#0000ff" stroke="#000066" stroke-width="1"/><g stroke-width="3.6" stroke-linecap="butt" fill="none"><line x1="830.8" y1="357.6" x2="832.2" y2="357.6" stroke="#ffb500" stroke-width="4.2"/><line x1="831.2" y1="357.6" x2="833.5" y2="357.6" stroke="#ffa600" stroke-width="4.2"/><line x1="832.5" y1="357.6" x2="835.0" y2="357.6" stroke="#ff9600" stroke-width="4.2"/><line x1="834.0" y1="357.6" x2="836.5" y2="357.6" stroke="#ff8700" stroke-width="4.2"/><line x1="835.5" y1="357.6" x2="837.5" y2="357.6" stroke="#ff7300" stroke-width="4.2"/><line x1="836.5" y1="357.6" x2="838.3" y2="357.6" stroke="#ff5900" stroke-width="4.2"/><line x1="837.3" y1="357.6" x2="839.3" y2="357.6" stroke="#ff4000" stroke-width="4.2"/><line x1="838.3" y1="357.6" x2="840.9" y2="357.6" stroke="#ff2600" stroke-width="4.2"/><line x1="839.9" y1="357.6" x2="843.5" y2="357.6" stroke="#ff0d00" stroke-width="4.2"/><line x1="842.5" y1="357.6" x2="844.3" y2="357.6" stroke="#fe0000" stroke-width="4.2"/><line x1="843.3" y1="357.6" x2="845.2" y2="357.6" stroke="#fb0000" stroke-width="4.2"/><line x1="844.2" y1="357.6" x2="846.2" y2="357.6" stroke="#f80000" stroke-width="4.2"/><line x1="845.2" y1="357.6" x2="847.2" y2="357.6" stroke="#f50000" stroke-width="4.2"/><line x1="846.2" y1="357.6" x2="848.3" y2="357.6" stroke="#f20000" stroke-width="4.2"/><line x1="847.3" y1="357.6" x2="849.5" y2="357.6" stroke="#f00000" stroke-width="4.2"/><line x1="848.5" y1="357.6" x2="850.6" y2="357.6" stroke="#ed0000" stroke-width="4.2"/><line x1="849.6" y1="357.6" x2="851.9" y2="357.6" stroke="#ea0000" stroke-width="4.2"/><line x1="850.9" y1="357.6" x2="853.1" y2="357.6" stroke="#e70000" stroke-width="4.2"/><line x1="852.1" y1="357.6" x2="854.4" y2="357.6" stroke="#e40000" stroke-width="4.2"/><line x1="853.4" y1="357.6" x2="855.8" y2="357.5" stroke="#e20000" stroke-width="4.2"/><line x1="854.8" y1="357.6" x2="857.1" y2="357.5" stroke="#df0000" stroke-width="4.2"/><line x1="856.1" y1="357.5" x2="858.5" y2="357.5" stroke="#dc0000" stroke-width="4.2"/><line x1="857.5" y1="357.5" x2="859.9" y2="357.5" stroke="#d90000" stroke-width="4.2"/><line x1="858.9" y1="357.5" x2="861.3" y2="357.5" stroke="#d60000" stroke-width="4.2"/><line x1="860.3" y1="357.5" x2="862.8" y2="357.5" stroke="#d40000" stroke-width="4.2"/><line x1="861.8" y1="357.5" x2="864.2" y2="357.5" stroke="#d10000" stroke-width="4.2"/><line x1="863.2" y1="357.5" x2="865.6" y2="357.5" stroke="#ce0000" stroke-width="4.2"/><line x1="864.6" y1="357.5" x2="867.1" y2="357.5" stroke="#cb0000" stroke-width="4.2"/><line x1="866.1" y1="357.5" x2="868.5" y2="357.5" stroke="#c80000" stroke-width="4.2"/><line x1="867.5" y1="357.5" x2="869.6" y2="357.5" stroke="#c60000" stroke-width="4.2"/><line x1="868.6" y1="357.5" x2="870.6" y2="357.5" stroke="#c30000" stroke-width="4.2"/><line x1="869.6" y1="357.5" x2="871.6" y2="357.5" stroke="#c00000" stroke-width="4.2"/><line x1="870.6" y1="357.5" x2="872.6" y2="357.5" stroke="#bd0000" stroke-width="4.2"/><line x1="871.6" y1="357.5" x2="873.5" y2="357.5" stroke="#bb0000" stroke-width="4.2"/><line x1="872.5" y1="357.5" x2="874.4" y2="357.5" stroke="#b80000" stroke-width="4.2"/><line x1="873.4" y1="357.5" x2="875.3" y2="357.5" stroke="#b50000" stroke-width="4.2"/><line x1="874.3" y1="357.5" x2="876.3" y2="357.5" stroke="#b20000" stroke-width="4.2"/><line x1="875.3" y1="357.5" x2="877.2" y2="357.5" stroke="#b00000" stroke-width="4.2"/><line x1="876.2" y1="357.5" x2="878.1" y2="357.5" stroke="#ad0000" stroke-width="4.2"/><line x1="877.1" y1="357.5" x2="879.1" y2="357.5" stroke="#aa0000" stroke-width="4.2"/><line x1="878.1" y1="357.5" x2="880.0" y2="357.5" stroke="#a70000" stroke-width="4.2"/><line x1="879.0" y1="357.5" x2="881.1" y2="357.5" stroke="#a50000" stroke-width="4.2"/><line x1="880.1" y1="357.5" x2="882.1" y2="357.5" stroke="#a20000" stroke-width="4.2"/><line x1="881.1" y1="357.5" x2="883.2" y2="357.4" stroke="#9f0000" stroke-width="4.2"/><line x1="882.2" y1="357.5" x2="884.4" y2="357.4" stroke="#9c0000" stroke-width="4.2"/><line x1="883.4" y1="357.4" x2="885.6" y2="357.4" stroke="#9a0000" stroke-width="4.2"/><line x1="884.6" y1="357.4" x2="886.9" y2="357.4" stroke="#970000" stroke-width="4.2"/><line x1="885.9" y1="357.4" x2="888.2" y2="357.4" stroke="#940000" stroke-width="4.2"/><line x1="887.2" y1="357.4" x2="889.7" y2="357.4" stroke="#910000" stroke-width="4.2"/><line x1="888.7" y1="357.4" x2="891.2" y2="357.4" stroke="#8f0000" stroke-width="4.2"/><line x1="890.2" y1="357.4" x2="892.9" y2="357.4" stroke="#8c0000" stroke-width="4.2"/><line x1="891.9" y1="357.4" x2="894.6" y2="357.4" stroke="#890000" stroke-width="4.2"/><line x1="893.6" y1="357.4" x2="896.4" y2="357.4" stroke="#860000" stroke-width="4.2"/><line x1="895.4" y1="357.4" x2="898.4" y2="357.4" stroke="#840000" stroke-width="4.2"/><line x1="897.4" y1="357.4" x2="900.5" y2="357.4" stroke="#810000" stroke-width="4.2"/><line x1="899.5" y1="357.4" x2="901.4" y2="357.4" stroke="#800000" stroke-width="4.2"/><line x1="900.4" y1="357.4" x2="902.3" y2="357.4" stroke="#800000" stroke-width="4.2"/><line x1="901.3" y1="357.4" x2="903.2" y2="357.4" stroke="#800000" stroke-width="4.2"/><line x1="902.2" y1="357.4" x2="904.2" y2="357.4" stroke="#800000" stroke-width="4.2"/><line x1="903.2" y1="357.4" x2="905.2" y2="357.4" stroke="#800000" stroke-width="4.2"/><line x1="904.2" y1="357.4" x2="906.2" y2="357.4" stroke="#800000" stroke-width="4.2"/><line x1="905.2" y1="357.4" x2="907.3" y2="357.4" stroke="#800000" stroke-width="4.2"/><line x1="906.3" y1="357.4" x2="908.4" y2="357.4" stroke="#800000" stroke-width="4.2"/><line x1="907.4" y1="357.4" x2="909.6" y2="357.4" stroke="#800000" stroke-width="4.2"/><line x1="908.6" y1="357.4" x2="910.7" y2="357.4" stroke="#800000" stroke-width="4.2"/><line x1="909.7" y1="357.4" x2="911.9" y2="357.4" stroke="#800000" stroke-width="4.2"/><line x1="910.9" y1="357.4" x2="913.1" y2="357.4" stroke="#800000" stroke-width="4.2"/><line x1="912.1" y1="357.4" x2="914.4" y2="357.4" stroke="#800000" stroke-width="4.2"/><line x1="913.4" y1="357.4" x2="915.6" y2="357.4" stroke="#800000" stroke-width="4.2"/><line x1="914.6" y1="357.4" x2="916.9" y2="357.4" stroke="#800000" stroke-width="4.2"/><line x1="915.9" y1="357.4" x2="918.2" y2="357.4" stroke="#800000" stroke-width="4.2"/><line x1="917.2" y1="357.4" x2="919.5" y2="357.4" stroke="#800000" stroke-width="4.2"/><line x1="918.5" y1="357.4" x2="920.9" y2="357.4" stroke="#800000" stroke-width="4.2"/><line x1="919.9" y1="357.4" x2="922.2" y2="357.3" stroke="#800000" stroke-width="4.2"/><line x1="921.2" y1="357.4" x2="923.6" y2="357.3" stroke="#800000" stroke-width="4.2"/><line x1="922.6" y1="357.3" x2="925.0" y2="357.3" stroke="#800000" stroke-width="4.2"/><line x1="924.0" y1="357.3" x2="926.4" y2="357.3" stroke="#800000" stroke-width="4.2"/><line x1="925.4" y1="357.3" x2="927.8" y2="357.3" stroke="#800000" stroke-width="4.2"/><line x1="926.8" y1="357.3" x2="929.2" y2="357.3" stroke="#800000" stroke-width="4.2"/><line x1="928.2" y1="357.3" x2="930.6" y2="357.3" stroke="#800000" stroke-width="4.2"/><line x1="929.6" y1="357.3" x2="932.0" y2="357.3" stroke="#800000" stroke-width="4.2"/><line x1="931.0" y1="357.3" x2="933.5" y2="357.3" stroke="#800000" stroke-width="4.2"/><line x1="932.5" y1="357.3" x2="934.9" y2="357.3" stroke="#800000" stroke-width="4.2"/><line x1="933.9" y1="357.3" x2="936.3" y2="357.3" stroke="#800000" stroke-width="4.2"/><line x1="935.3" y1="357.3" x2="937.8" y2="357.3" stroke="#800000" stroke-width="4.2"/><line x1="936.8" y1="357.3" x2="939.2" y2="357.3" stroke="#800000" stroke-width="4.2"/><line x1="938.2" y1="357.3" x2="940.7" y2="357.3" stroke="#800000" stroke-width="4.2"/><line x1="939.7" y1="357.3" x2="942.1" y2="357.3" stroke="#800000" stroke-width="4.2"/><line x1="941.1" y1="357.3" x2="943.6" y2="357.3" stroke="#800000" stroke-width="4.2"/><line x1="942.6" y1="357.3" x2="945.0" y2="357.3" stroke="#800000" stroke-width="4.2"/><line x1="944.0" y1="357.3" x2="946.4" y2="357.3" stroke="#800000" stroke-width="4.2"/><line x1="945.4" y1="357.3" x2="947.9" y2="357.3" stroke="#800000" stroke-width="4.2"/><line x1="946.9" y1="357.3" x2="949.3" y2="357.3" stroke="#800000" stroke-width="4.2"/><line x1="948.3" y1="357.3" x2="950.7" y2="357.3" stroke="#800000" stroke-width="4.2"/><line x1="949.7" y1="357.3" x2="952.1" y2="357.3" stroke="#800000" stroke-width="4.2"/><line x1="951.1" y1="357.3" x2="953.5" y2="357.3" stroke="#800000" stroke-width="4.2"/><line x1="952.5" y1="357.3" x2="954.8" y2="357.3" stroke="#800000" stroke-width="4.2"/><line x1="953.8" y1="357.3" x2="956.2" y2="357.3" stroke="#800000" stroke-width="4.2"/><line x1="955.2" y1="357.3" x2="957.5" y2="357.3" stroke="#800000" stroke-width="4.2"/><line x1="956.5" y1="357.3" x2="958.9" y2="357.3" stroke="#800000" stroke-width="4.2"/><line x1="957.9" y1="357.3" x2="960.2" y2="357.3" stroke="#800000" stroke-width="4.2"/><line x1="959.2" y1="357.3" x2="961.5" y2="357.3" stroke="#800000" stroke-width="4.2"/><line x1="960.5" y1="357.3" x2="962.7" y2="357.3" stroke="#800000" stroke-width="4.2"/><line x1="961.7" y1="357.3" x2="964.0" y2="357.3" stroke="#800000" stroke-width="4.2"/><line x1="963.0" y1="357.3" x2="965.2" y2="357.2" stroke="#800000" stroke-width="4.2"/><line x1="964.2" y1="357.3" x2="966.4" y2="357.2" stroke="#800000" stroke-width="4.2"/><line x1="965.4" y1="357.2" x2="967.6" y2="357.2" stroke="#800000" stroke-width="4.2"/><line x1="966.6" y1="357.2" x2="968.7" y2="357.2" stroke="#800000" stroke-width="4.2"/><line x1="967.7" y1="357.2" x2="969.8" y2="357.2" stroke="#800000" stroke-width="4.2"/><line x1="968.8" y1="357.2" x2="970.9" y2="357.2" stroke="#800000" stroke-width="4.2"/><line x1="969.9" y1="357.2" x2="971.9" y2="357.2" stroke="#800000" stroke-width="4.2"/><line x1="970.9" y1="357.2" x2="973.0" y2="357.2" stroke="#800000" stroke-width="4.2"/><line x1="972.0" y1="357.2" x2="974.0" y2="357.2" stroke="#800000" stroke-width="4.2"/><line x1="973.0" y1="357.2" x2="974.9" y2="357.2" stroke="#800000" stroke-width="4.2"/><line x1="973.9" y1="357.2" x2="975.8" y2="357.2" stroke="#800000" stroke-width="4.2"/><line x1="974.8" y1="357.2" x2="976.7" y2="357.2" stroke="#800000" stroke-width="4.2"/><line x1="975.7" y1="357.2" x2="977.5" y2="357.2" stroke="#800000" stroke-width="4.2"/><line x1="976.5" y1="357.2" x2="978.3" y2="357.2" stroke="#800000" stroke-width="4.2"/><line x1="977.3" y1="357.2" x2="979.1" y2="357.2" stroke="#800000" stroke-width="4.2"/><line x1="978.1" y1="357.2" x2="979.8" y2="357.2" stroke="#800000" stroke-width="4.2"/><line x1="978.8" y1="357.2" x2="980.5" y2="357.2" stroke="#800000" stroke-width="4.2"/><line x1="979.5" y1="357.2" x2="986.5" y2="357.2" stroke="#8c0000" stroke-width="4.2"/><line x1="985.5" y1="357.2" x2="988.5" y2="357.1" stroke="#a60000" stroke-width="4.2"/><line x1="988.5" y1="357.2" x2="987.1" y2="357.0" stroke="#bf0000" stroke-width="4.2"/><line x1="988.1" y1="357.1" x2="985.9" y2="357.0" stroke="#d90000" stroke-width="4.2"/><line x1="986.9" y1="357.1" x2="986.0" y2="357.0" stroke="#f20000" stroke-width="4.2"/><line x1="987.5" y1="355.1" x2="986.2" y2="354.6" stroke="#ff3c00"/><line x1="987.1" y1="355.0" x2="985.1" y2="354.2" stroke="#ff2e00"/><line x1="986.0" y1="354.6" x2="983.7" y2="353.8" stroke="#ff2100"/><line x1="984.6" y1="354.1" x2="982.2" y2="353.3" stroke="#ff1400"/><line x1="983.2" y1="353.6" x2="980.8" y2="352.8" stroke="#ff0700"/><line x1="981.7" y1="353.1" x2="979.7" y2="352.5" stroke="#ff0000"/><line x1="980.6" y1="352.8" x2="978.5" y2="352.2" stroke="#ff0000"/><line x1="979.4" y1="352.5" x2="977.2" y2="351.9" stroke="#ff0000"/><line x1="978.2" y1="352.2" x2="976.0" y2="351.6" stroke="#ff0000"/><line x1="977.0" y1="351.9" x2="974.8" y2="351.3" stroke="#ff0000"/><line x1="975.7" y1="351.6" x2="973.6" y2="351.0" stroke="#ff0000"/><line x1="974.6" y1="351.3" x2="972.5" y2="350.7" stroke="#ff0000"/><line x1="973.5" y1="351.0" x2="971.2" y2="350.2" stroke="#ff0d00"/><line x1="972.1" y1="350.6" x2="970.0" y2="349.8" stroke="#ff2600"/><line x1="970.9" y1="350.1" x2="968.8" y2="349.3" stroke="#ff4000"/><line x1="969.8" y1="349.7" x2="967.8" y2="348.8" stroke="#ff5900"/><line x1="968.7" y1="349.3" x2="966.8" y2="348.3" stroke="#ff7300"/><line x1="967.7" y1="348.8" x2="965.7" y2="347.6" stroke="#ff9800"/><line x1="966.5" y1="348.1" x2="964.7" y2="346.9" stroke="#ffc800"/><line x1="965.5" y1="347.5" x2="963.8" y2="346.1" stroke="#fff900"/><line x1="964.5" y1="346.8" x2="963.2" y2="345.0" stroke="#d5ff2a"/><line x1="963.7" y1="345.9" x2="962.8" y2="343.9" stroke="#b7ff48"/><line x1="963.2" y1="344.9" x2="962.5" y2="342.7" stroke="#aaff55"/><line x1="962.8" y1="343.7" x2="962.3" y2="341.4" stroke="#9eff61"/><line x1="962.4" y1="342.4" x2="962.2" y2="340.1" stroke="#92ff6d"/><line x1="962.3" y1="341.1" x2="962.3" y2="338.8" stroke="#86ff79"/><line x1="962.2" y1="339.8" x2="962.6" y2="337.6" stroke="#80ff80"/><line x1="962.4" y1="338.6" x2="963.1" y2="336.3" stroke="#80ff80"/><line x1="962.7" y1="337.3" x2="963.6" y2="335.1" stroke="#80ff80"/><line x1="963.2" y1="336.0" x2="964.3" y2="333.9" stroke="#80ff80"/><line x1="963.8" y1="334.7" x2="965.0" y2="332.6" stroke="#80ff80"/><line x1="964.5" y1="333.5" x2="965.8" y2="331.6" stroke="#75ff8a"/><line x1="965.2" y1="332.4" x2="966.6" y2="330.5" stroke="#60ff9f"/><line x1="966.0" y1="331.3" x2="967.5" y2="329.5" stroke="#4affb5"/><line x1="966.9" y1="330.2" x2="968.4" y2="328.4" stroke="#35ffca"/><line x1="967.8" y1="329.2" x2="969.3" y2="327.5" stroke="#20ffdf"/><line x1="968.6" y1="328.2" x2="970.1" y2="326.6" stroke="#0bfff4"/><line x1="969.4" y1="327.3" x2="971.1" y2="325.6" stroke="#00f2ff"/><line x1="970.4" y1="326.3" x2="972.1" y2="324.7" stroke="#00d7ff"/><line x1="971.4" y1="325.4" x2="973.0" y2="324.0" stroke="#00bcff"/><line x1="972.2" y1="324.7" x2="973.7" y2="323.4" stroke="#00a1ff"/><line x1="973.0" y1="324.1" x2="975.0" y2="322.1" stroke="#0066ff"/><line x1="985.3" y1="356.4" x2="987.1" y2="356.3" stroke="#ff2000"/><line x1="986.1" y1="356.4" x2="988.6" y2="356.2" stroke="#ff6000"/><line x1="987.6" y1="356.3" x2="990.9" y2="356.3" stroke="#ffbf00"/><line x1="989.9" y1="356.2" x2="992.9" y2="356.5" stroke="#a1ff5e"/><line x1="991.9" y1="356.4" x2="994.2" y2="356.6" stroke="#21ffde"/><line x1="993.2" y1="356.5" x2="995.4" y2="356.9" stroke="#00c9ff"/><line x1="975.0" y1="322.4" x2="975.6" y2="320.8" stroke="#0038ff"/><line x1="975.2" y1="321.7" x2="975.8" y2="320.1" stroke="#0038ff"/><line x1="975.8" y1="320.1" x2="974.0" y2="319.8" stroke="#0042ff"/><line x1="975.0" y1="320.0" x2="972.2" y2="319.1" stroke="#0057ff"/><line x1="973.1" y1="319.5" x2="971.2" y2="318.5" stroke="#006eff"/><line x1="972.1" y1="319.0" x2="970.1" y2="317.8" stroke="#0087ff"/><line x1="971.0" y1="318.4" x2="969.1" y2="317.0" stroke="#00a1ff"/><line x1="969.9" y1="317.7" x2="968.2" y2="316.1" stroke="#00baff"/><line x1="968.9" y1="316.9" x2="967.3" y2="314.8" stroke="#00d0ff"/><line x1="967.8" y1="315.6" x2="966.7" y2="313.3" stroke="#00e3ff"/><line x1="967.0" y1="314.2" x2="966.3" y2="311.7" stroke="#00f6ff"/><line x1="966.5" y1="312.7" x2="966.3" y2="310.5" stroke="#00ffff"/><line x1="966.3" y1="311.5" x2="966.4" y2="309.3" stroke="#00ffff"/><line x1="966.3" y1="310.3" x2="966.7" y2="308.0" stroke="#00ffff"/><line x1="966.5" y1="309.0" x2="967.1" y2="306.8" stroke="#00ffff"/><line x1="966.7" y1="307.7" x2="967.6" y2="305.5" stroke="#00f2ff"/><line x1="967.2" y1="306.4" x2="968.4" y2="304.2" stroke="#00d7ff"/><line x1="967.9" y1="305.1" x2="969.2" y2="303.0" stroke="#00bcff"/><line x1="968.6" y1="303.8" x2="970.0" y2="301.9" stroke="#00a1ff"/><line x1="969.4" y1="302.7" x2="971.2" y2="300.9" stroke="#008bff"/><line x1="970.4" y1="301.6" x2="972.4" y2="300.2" stroke="#007aff"/><line x1="971.6" y1="300.8" x2="973.4" y2="299.6" stroke="#0069ff"/><line x1="972.6" y1="300.2" x2="974.7" y2="298.6" stroke="#004dff"/><line x1="974.7" y1="298.7" x2="975.3" y2="297.1" stroke="#0038ff"/><line x1="975.0" y1="298.0" x2="975.6" y2="296.4" stroke="#0038ff"/><line x1="975.6" y1="296.4" x2="974.3" y2="295.9" stroke="#003fff"/><line x1="975.2" y1="296.3" x2="973.0" y2="295.4" stroke="#004dff"/><line x1="973.9" y1="295.8" x2="971.7" y2="294.7" stroke="#005aff"/><line x1="972.6" y1="295.2" x2="970.4" y2="294.0" stroke="#0069ff"/><line x1="971.3" y1="294.5" x2="969.1" y2="293.1" stroke="#007aff"/><line x1="969.9" y1="293.7" x2="968.2" y2="292.1" stroke="#008bff"/><line x1="968.7" y1="292.9" x2="967.8" y2="290.4" stroke="#00cfff"/><line x1="967.9" y1="291.4" x2="968.3" y2="288.7" stroke="#45ffba"/><line x1="968.0" y1="289.6" x2="968.9" y2="287.8" stroke="#9fff60"/><line x1="968.4" y1="288.7" x2="969.6" y2="286.8" stroke="#dfff20"/><line x1="969.0" y1="287.7" x2="970.4" y2="285.9" stroke="#ffdf00"/><line x1="969.8" y1="286.6" x2="971.4" y2="284.9" stroke="#ff9f00"/><line x1="970.7" y1="285.6" x2="972.3" y2="284.1" stroke="#ff7300"/><line x1="971.5" y1="284.7" x2="973.3" y2="283.3" stroke="#ff5900"/><line x1="972.5" y1="283.9" x2="974.4" y2="282.4" stroke="#ff4000"/><line x1="973.6" y1="283.0" x2="975.5" y2="281.6" stroke="#ff2600"/><line x1="974.7" y1="282.2" x2="976.7" y2="280.7" stroke="#ff0d00"/><line x1="975.9" y1="281.3" x2="977.7" y2="279.9" stroke="#ff0000"/><line x1="976.9" y1="280.5" x2="978.9" y2="279.1" stroke="#ff0000"/><line x1="978.1" y1="279.7" x2="980.0" y2="278.2" stroke="#ff0000"/><line x1="979.2" y1="278.8" x2="981.2" y2="277.4" stroke="#ff0000"/><line x1="980.4" y1="278.0" x2="982.3" y2="276.6" stroke="#ff0000"/><line x1="981.5" y1="277.2" x2="983.3" y2="275.7" stroke="#ff0000"/><line x1="982.5" y1="276.4" x2="984.4" y2="274.7" stroke="#ff1a00"/><line x1="983.7" y1="275.4" x2="985.5" y2="273.7" stroke="#ff4c00"/><line x1="984.8" y1="274.4" x2="986.5" y2="272.7" stroke="#ff8000"/><line x1="985.8" y1="273.4" x2="987.4" y2="271.7" stroke="#ffb300"/><line x1="986.8" y1="272.5" x2="988.1" y2="270.7" stroke="#ffe500"/><line x1="987.6" y1="271.5" x2="988.8" y2="269.4" stroke="#f7ff08"/><line x1="988.3" y1="270.3" x2="989.2" y2="268.2" stroke="#e6ff19"/><line x1="988.9" y1="269.1" x2="989.3" y2="266.9" stroke="#d6ff29"/><line x1="989.3" y1="267.9" x2="989.1" y2="265.7" stroke="#c5ff3a"/><line x1="989.3" y1="266.6" x2="988.6" y2="264.7" stroke="#d6ff29"/><line x1="989.0" y1="265.6" x2="988.0" y2="263.8" stroke="#fff500"/><line x1="988.5" y1="264.6" x2="987.2" y2="262.8" stroke="#ffc200"/><line x1="987.9" y1="263.6" x2="986.3" y2="261.8" stroke="#ff8f00"/><line x1="987.0" y1="262.6" x2="985.3" y2="260.9" stroke="#ff5c00"/><line x1="986.0" y1="261.6" x2="984.5" y2="260.2" stroke="#ff3e00"/><line x1="985.3" y1="260.8" x2="983.5" y2="259.5" stroke="#ff3400"/><line x1="984.3" y1="260.1" x2="982.5" y2="258.8" stroke="#ff2b00"/><line x1="983.3" y1="259.4" x2="981.4" y2="258.1" stroke="#ff2100"/><line x1="982.3" y1="258.6" x2="980.4" y2="257.4" stroke="#ff1800"/><line x1="981.2" y1="257.9" x2="979.3" y2="256.7" stroke="#ff0e00"/><line x1="980.2" y1="257.2" x2="978.4" y2="256.0" stroke="#ff0500"/><line x1="979.2" y1="256.6" x2="977.3" y2="255.3" stroke="#ff0b00"/><line x1="978.1" y1="255.8" x2="976.1" y2="254.6" stroke="#ff2000"/><line x1="977.0" y1="255.1" x2="975.0" y2="253.9" stroke="#ff3500"/><line x1="975.9" y1="254.5" x2="974.0" y2="253.3" stroke="#ff4a00"/><line x1="974.8" y1="253.8" x2="973.1" y2="252.6" stroke="#ff6000"/><line x1="973.9" y1="253.2" x2="972.2" y2="251.9" stroke="#ff7500"/><line x1="973.0" y1="252.5" x2="971.1" y2="250.8" stroke="#ff8f00"/><line x1="971.8" y1="251.5" x2="970.2" y2="249.7" stroke="#ffaf00"/><line x1="970.8" y1="250.5" x2="969.4" y2="248.7" stroke="#ffcf00"/><line x1="970.0" y1="249.5" x2="968.8" y2="247.6" stroke="#ffef00"/><line x1="969.3" y1="248.5" x2="968.4" y2="246.1" stroke="#f4ff0b"/><line x1="968.7" y1="247.1" x2="968.3" y2="244.6" stroke="#deff21"/><line x1="968.4" y1="245.6" x2="968.3" y2="243.2" stroke="#c8ff37"/><line x1="968.3" y1="244.2" x2="968.4" y2="241.8" stroke="#c8ff37"/><line x1="968.3" y1="242.8" x2="968.7" y2="240.4" stroke="#deff21"/><line x1="968.5" y1="241.4" x2="969.3" y2="239.0" stroke="#f4ff0b"/><line x1="968.9" y1="240.0" x2="969.8" y2="238.0" stroke="#ffef00"/><line x1="969.3" y1="238.9" x2="970.4" y2="237.0" stroke="#ffcf00"/><line x1="969.9" y1="237.8" x2="971.1" y2="235.9" stroke="#ffaf00"/><line x1="970.5" y1="236.8" x2="971.9" y2="234.9" stroke="#ff8f00"/><line x1="971.3" y1="235.7" x2="972.8" y2="233.8" stroke="#ff8700"/><line x1="972.1" y1="234.6" x2="973.8" y2="232.8" stroke="#ff9600"/><line x1="973.1" y1="233.5" x2="974.9" y2="231.7" stroke="#ffa600"/><line x1="974.2" y1="232.4" x2="975.8" y2="230.6" stroke="#ffb500"/><line x1="975.2" y1="231.4" x2="976.8" y2="229.6" stroke="#ffc500"/><line x1="976.1" y1="230.3" x2="977.7" y2="228.5" stroke="#ffd600"/><line x1="977.0" y1="229.3" x2="978.5" y2="227.5" stroke="#ffe600"/><line x1="977.9" y1="228.2" x2="979.3" y2="226.4" stroke="#fff700"/><line x1="978.7" y1="227.2" x2="980.0" y2="225.4" stroke="#e7ff18"/><line x1="979.4" y1="226.2" x2="980.6" y2="224.3" stroke="#b8ff47"/><line x1="980.1" y1="225.2" x2="981.1" y2="223.3" stroke="#89ff76"/><line x1="980.7" y1="224.2" x2="981.6" y2="222.1" stroke="#5affa5"/><line x1="981.2" y1="223.1" x2="982.1" y2="220.9" stroke="#3affc5"/><line x1="981.7" y1="221.9" x2="982.6" y2="219.7" stroke="#29ffd6"/><line x1="982.2" y1="220.6" x2="983.0" y2="218.4" stroke="#19ffe6"/><line x1="982.7" y1="219.3" x2="983.3" y2="217.1" stroke="#08fff7"/><line x1="983.1" y1="218.1" x2="983.7" y2="215.9" stroke="#00f8ff"/><line x1="983.4" y1="216.8" x2="984.0" y2="214.6" stroke="#00eaff"/><line x1="983.8" y1="215.5" x2="984.2" y2="213.3" stroke="#00dcff"/><line x1="984.1" y1="214.3" x2="984.4" y2="212.2" stroke="#00ceff"/><line x1="984.3" y1="213.2" x2="984.4" y2="210.4" stroke="#00c7ff"/><line x1="984.5" y1="211.4" x2="983.8" y2="208.7" stroke="#00c7ff"/><line x1="984.2" y1="209.6" x2="982.9" y2="207.7" stroke="#00ceff"/><line x1="983.5" y1="208.5" x2="982.0" y2="206.7" stroke="#00dcff"/><line x1="982.6" y1="207.4" x2="980.9" y2="205.6" stroke="#00eaff"/><line x1="981.6" y1="206.3" x2="980.1" y2="204.5" stroke="#00f8ff"/><line x1="980.7" y1="205.3" x2="979.0" y2="203.5" stroke="#00e5ff"/><line x1="979.7" y1="204.2" x2="978.1" y2="202.4" stroke="#00b0ff"/><line x1="978.6" y1="203.3" x2="977.7" y2="200.8" stroke="#007bff"/><line x1="977.9" y1="201.8" x2="977.9" y2="199.7" stroke="#0065ff"/><line x1="977.8" y1="200.7" x2="978.1" y2="198.5" stroke="#006eff"/><line x1="978.0" y1="199.5" x2="978.4" y2="197.2" stroke="#0076ff"/><line x1="978.2" y1="198.1" x2="978.7" y2="195.7" stroke="#007fff"/><line x1="978.5" y1="196.7" x2="979.1" y2="194.2" stroke="#0087ff"/><line x1="978.9" y1="195.2" x2="979.4" y2="192.7" stroke="#0090ff"/><line x1="979.2" y1="193.7" x2="979.7" y2="191.5" stroke="#0094ff"/><line x1="979.5" y1="192.5" x2="980.0" y2="190.3" stroke="#0094ff"/><line x1="979.7" y1="191.3" x2="980.3" y2="189.0" stroke="#0094ff"/><line x1="980.0" y1="190.0" x2="980.6" y2="187.7" stroke="#0094ff"/><line x1="980.4" y1="188.7" x2="980.9" y2="186.4" stroke="#0094ff"/><line x1="980.7" y1="187.4" x2="981.3" y2="185.2" stroke="#0094ff"/><line x1="981.0" y1="186.1" x2="981.6" y2="183.9" stroke="#0094ff"/><line x1="981.3" y1="184.9" x2="981.9" y2="182.8" stroke="#0094ff"/><line x1="981.6" y1="183.8" x2="982.3" y2="181.3" stroke="#0090ff"/><line x1="982.0" y1="182.3" x2="982.7" y2="179.9" stroke="#0087ff"/><line x1="982.4" y1="180.9" x2="983.2" y2="178.5" stroke="#007fff"/><line x1="982.9" y1="179.5" x2="983.5" y2="177.3" stroke="#0076ff"/><line x1="983.3" y1="178.2" x2="983.8" y2="176.1" stroke="#006eff"/><line x1="983.6" y1="177.1" x2="984.0" y2="175.2" stroke="#0065ff"/><line x1="983.9" y1="176.1" x2="983.7" y2="173.3" stroke="#0057ff"/><line x1="983.9" y1="174.2" x2="983.3" y2="172.9" stroke="#0042ff"/><line x1="980.5" y1="171.1" x2="982.2" y2="171.9" stroke="#0038ff"/><line x1="981.3" y1="171.4" x2="983.7" y2="172.9" stroke="#0038ff"/><line x1="982.9" y1="172.2" x2="984.7" y2="174.0" stroke="#0038ff"/><line x1="984.0" y1="173.2" x2="985.6" y2="175.2" stroke="#0038ff"/><line x1="985.0" y1="174.4" x2="986.0" y2="175.6" stroke="#0038ff"/><line x1="972.6" y1="157.6" x2="973.8" y2="156.6" stroke="#0038ff"/><line x1="973.1" y1="157.3" x2="974.8" y2="155.4" stroke="#0038ff"/><line x1="974.2" y1="156.2" x2="975.7" y2="153.7" stroke="#0038ff"/><line x1="975.2" y1="154.6" x2="976.3" y2="152.7" stroke="#0038ff"/><line x1="976.3" y1="152.7" x2="974.9" y2="152.1" stroke="#003fff"/><line x1="975.8" y1="152.6" x2="973.7" y2="151.5" stroke="#004dff"/><line x1="974.5" y1="152.0" x2="972.5" y2="150.6" stroke="#005aff"/><line x1="973.3" y1="151.2" x2="971.4" y2="149.6" stroke="#0069ff"/><line x1="972.1" y1="150.3" x2="970.3" y2="148.3" stroke="#007aff"/><line x1="971.0" y1="149.1" x2="969.6" y2="147.0" stroke="#008bff"/><line x1="970.0" y1="147.9" x2="969.2" y2="145.5" stroke="#009cff"/><line x1="969.4" y1="146.4" x2="969.0" y2="143.9" stroke="#00adff"/><line x1="969.0" y1="144.9" x2="969.1" y2="142.3" stroke="#00beff"/><line x1="969.0" y1="143.3" x2="969.5" y2="141.2" stroke="#00ceff"/><line x1="969.2" y1="142.1" x2="970.0" y2="140.0" stroke="#00dcff"/><line x1="969.6" y1="140.9" x2="970.6" y2="138.9" stroke="#00eaff"/><line x1="970.2" y1="139.8" x2="971.3" y2="137.8" stroke="#00f8ff"/><line x1="970.8" y1="138.6" x2="972.2" y2="136.7" stroke="#00ffff"/><line x1="971.6" y1="137.5" x2="973.2" y2="135.7" stroke="#00ffff"/><line x1="972.5" y1="136.4" x2="974.1" y2="134.7" stroke="#00ffff"/><line x1="973.4" y1="135.5" x2="974.4" y2="134.4" stroke="#00ffff"/></g>
<circle cx="822.6" cy="357.6" r="7.8" fill="#00ff00" stroke="#0a6a0a" stroke-width="1.3"/>
<rect x="965.8" y="123.8" width="10.9" height="10.9" fill="#ff0000" stroke="#300000" stroke-width="1.2"/>
<path d="M706.00 13.20V384.60H1138.78" fill="none" stroke="#3a3a3a" stroke-width="1.2"/>
<path d="M792.08 384.60v-4.3M878.75 384.60v-4.3M965.42 384.60v-4.3M1052.10 384.60v-4.3M1138.78 384.60v-4.3M706.00 306.45h4.3M706.00 228.30h4.3M706.00 150.15h4.3M706.00 72.00h4.3" fill="none" stroke="#3a3a3a" stroke-width="1.2"/>
<g font-size="19.90" text-anchor="middle">
<text x="705.4" y="412.9">0</text>
<text x="792.1" y="412.9">5</text>
<text x="878.8" y="412.9">10</text>
<text x="965.4" y="412.9">15</text>
<text x="1052.1" y="412.9">20</text>
<text x="1138.8" y="412.9">25</text>
</g><g font-size="19.90" text-anchor="end">
<text x="698.1" y="392.0">0</text>
<text x="698.1" y="313.9">5</text>
<text x="698.1" y="235.7">10</text>
<text x="698.1" y="157.6">15</text>
<text x="698.1" y="79.4">20</text>
</g>
<text font-size="21.40" text-anchor="middle" transform="translate(662.7 190.1) rotate(-90)">X Position</text>
<rect x="1167.30" y="13.20" width="30.60" height="377.00" fill="url(#jet)"/>
<rect x="1167.70" y="13.60" width="29.80" height="376.20" stroke="#000" stroke-opacity="0.45" stroke-width="1" fill="none"/>
<g font-size="17.60">
<text x="1205.8" y="353.9">0.2</text>
<text x="1205.8" y="306.7">0.4</text>
<text x="1205.8" y="259.5">0.6</text>
<text x="1205.8" y="212.3">0.8</text>
<text x="1205.8" y="165.1">1</text>
<text x="1205.8" y="117.9">1.2</text>
<text x="1205.8" y="70.7">1.4</text>
<text x="1205.8" y="23.5">1.6</text>
</g>
<path d="M1197.90 346.90h-4.8M1197.90 299.70h-4.8M1197.90 252.50h-4.8M1197.90 205.30h-4.8M1197.90 158.10h-4.8M1197.90 110.90h-4.8M1197.90 63.70h-4.8M1197.90 16.50h-4.8" stroke="#1a1a1a" stroke-opacity="0.85" stroke-width="1" fill="none"/>
<text font-size="17.60" text-anchor="middle" transform="translate(1254.7 191.9) rotate(-90)">Speed (m/s)</text>
</g>
<g><line x1="159.70" y1="434.10" x2="159.70" y2="805.50" stroke="#dcdcdc" stroke-width="0.7"/><line x1="246.35" y1="434.10" x2="246.35" y2="805.50" stroke="#dcdcdc" stroke-width="0.7"/><line x1="333.00" y1="434.10" x2="333.00" y2="805.50" stroke="#dcdcdc" stroke-width="0.7"/><line x1="419.65" y1="434.10" x2="419.65" y2="805.50" stroke="#dcdcdc" stroke-width="0.7"/><line x1="506.30" y1="434.10" x2="506.30" y2="805.50" stroke="#dcdcdc" stroke-width="0.7"/><line x1="73.40" y1="727.35" x2="506.30" y2="727.35" stroke="#dcdcdc" stroke-width="0.7"/><line x1="73.40" y1="649.20" x2="506.30" y2="649.20" stroke="#dcdcdc" stroke-width="0.7"/><line x1="73.40" y1="571.05" x2="506.30" y2="571.05" stroke="#dcdcdc" stroke-width="0.7"/><line x1="73.40" y1="492.90" x2="506.30" y2="492.90" stroke="#dcdcdc" stroke-width="0.7"/><rect x="142.37" y="445.20" width="34.36" height="31.10" fill="#0000ff" stroke="#000066" stroke-width="1"/><rect x="350.33" y="445.20" width="34.36" height="31.10" fill="#0000ff" stroke="#000066" stroke-width="1"/><rect x="436.98" y="460.90" width="34.36" height="31.10" fill="#0000ff" stroke="#000066" stroke-width="1"/><rect x="125.04" y="523.70" width="34.36" height="31.10" fill="#0000ff" stroke="#000066" stroke-width="1"/><rect x="229.02" y="508.00" width="34.36" height="31.10" fill="#0000ff" stroke="#000066" stroke-width="1"/><rect x="350.33" y="555.10" width="34.36" height="31.10" fill="#0000ff" stroke="#000066" stroke-width="1"/><rect x="454.31" y="570.80" width="34.36" height="31.10" fill="#0000ff" stroke="#000066" stroke-width="1"/><rect x="298.34" y="586.50" width="34.36" height="31.10" fill="#0000ff" stroke="#000066" stroke-width="1"/><rect x="194.36" y="602.20" width="34.36" height="31.10" fill="#0000ff" stroke="#000066" stroke-width="1"/><rect x="367.66" y="617.90" width="34.36" height="31.10" fill="#0000ff" stroke="#000066" stroke-width="1"/><rect x="263.68" y="633.60" width="34.36" height="31.10" fill="#0000ff" stroke="#000066" stroke-width="1"/><rect x="436.98" y="633.60" width="34.36" height="31.10" fill="#0000ff" stroke="#000066" stroke-width="1"/><rect x="107.71" y="649.30" width="34.36" height="31.10" fill="#0000ff" stroke="#000066" stroke-width="1"/><rect x="177.03" y="665.00" width="34.36" height="31.10" fill="#0000ff" stroke="#000066" stroke-width="1"/><rect x="402.32" y="665.00" width="34.36" height="31.10" fill="#0000ff" stroke="#000066" stroke-width="1"/><rect x="454.31" y="696.40" width="34.36" height="31.10" fill="#0000ff" stroke="#000066" stroke-width="1"/><rect x="246.35" y="712.10" width="34.36" height="31.10" fill="#0000ff" stroke="#000066" stroke-width="1"/><rect x="350.33" y="712.10" width="34.36" height="31.10" fill="#0000ff" stroke="#000066" stroke-width="1"/><rect x="142.37" y="759.20" width="34.36" height="31.10" fill="#0000ff" stroke="#000066" stroke-width="1"/><rect x="402.32" y="759.20" width="34.36" height="31.10" fill="#0000ff" stroke="#000066" stroke-width="1"/><g stroke-width="3.6" stroke-linecap="butt" fill="none"><line x1="163.3" y1="574.5" x2="164.9" y2="574.5" stroke="#c8ff37"/><line x1="163.9" y1="574.5" x2="166.6" y2="574.5" stroke="#deff21"/><line x1="165.6" y1="574.5" x2="168.6" y2="574.6" stroke="#f4ff0b"/><line x1="167.6" y1="574.5" x2="169.8" y2="574.6" stroke="#fff200"/><line x1="168.8" y1="574.6" x2="171.0" y2="574.8" stroke="#ffd900"/><line x1="170.0" y1="574.7" x2="172.4" y2="574.9" stroke="#ffbf00"/><line x1="171.4" y1="574.8" x2="173.9" y2="575.0" stroke="#ffa600"/><line x1="172.9" y1="574.9" x2="175.6" y2="575.1" stroke="#ff8c00"/><line x1="174.6" y1="575.1" x2="176.7" y2="575.2" stroke="#ff7800"/><line x1="175.7" y1="575.2" x2="177.8" y2="575.3" stroke="#ff6a00"/><line x1="176.8" y1="575.2" x2="178.9" y2="575.4" stroke="#ff5c00"/><line x1="178.0" y1="575.3" x2="180.2" y2="575.5" stroke="#ff4e00"/><line x1="179.2" y1="575.4" x2="181.4" y2="575.6" stroke="#ff4000"/><line x1="180.4" y1="575.5" x2="182.8" y2="575.7" stroke="#ff3200"/><line x1="181.8" y1="575.6" x2="184.1" y2="575.8" stroke="#ff2300"/><line x1="183.1" y1="575.7" x2="185.5" y2="575.9" stroke="#ff1500"/><line x1="184.5" y1="575.8" x2="186.9" y2="576.0" stroke="#ff0700"/><line x1="185.9" y1="575.9" x2="188.1" y2="576.1" stroke="#ff0000"/><line x1="187.1" y1="576.0" x2="189.3" y2="576.1" stroke="#ff0000"/><line x1="188.3" y1="576.1" x2="190.5" y2="576.2" stroke="#ff0000"/><line x1="189.5" y1="576.2" x2="191.8" y2="576.3" stroke="#ff0000"/><line x1="190.8" y1="576.2" x2="193.1" y2="576.4" stroke="#ff0000"/><line x1="192.1" y1="576.3" x2="194.4" y2="576.5" stroke="#ff0000"/><line x1="193.4" y1="576.4" x2="195.7" y2="576.5" stroke="#ff0000"/><line x1="194.7" y1="576.5" x2="197.1" y2="576.6" stroke="#ff0000"/><line x1="196.1" y1="576.6" x2="198.4" y2="576.7" stroke="#ff0000"/><line x1="197.4" y1="576.6" x2="199.7" y2="576.8" stroke="#ff0000"/><line x1="198.7" y1="576.7" x2="201.0" y2="576.8" stroke="#ff0000"/><line x1="200.0" y1="576.8" x2="202.3" y2="576.9" stroke="#ff0300"/><line x1="201.3" y1="576.8" x2="203.6" y2="577.0" stroke="#ff0900"/><line x1="202.6" y1="576.9" x2="204.9" y2="577.0" stroke="#ff0f00"/><line x1="203.9" y1="577.0" x2="206.2" y2="577.1" stroke="#ff1500"/><line x1="205.2" y1="577.0" x2="207.5" y2="577.1" stroke="#ff1b00"/><line x1="206.5" y1="577.1" x2="208.9" y2="577.2" stroke="#ff2100"/><line x1="207.9" y1="577.2" x2="210.2" y2="577.3" stroke="#ff2700"/><line x1="209.2" y1="577.2" x2="211.4" y2="577.3" stroke="#ff2d00"/><line x1="210.4" y1="577.3" x2="212.7" y2="577.3" stroke="#ff3300"/><line x1="211.7" y1="577.3" x2="213.9" y2="577.4" stroke="#ff3900"/><line x1="212.9" y1="577.3" x2="215.1" y2="577.4" stroke="#ff3f00"/><line x1="214.1" y1="577.4" x2="216.5" y2="577.4" stroke="#ff3f00"/><line x1="215.5" y1="577.4" x2="217.8" y2="577.4" stroke="#ff3700"/><line x1="216.8" y1="577.4" x2="219.0" y2="577.3" stroke="#ff3000"/><line x1="218.0" y1="577.4" x2="220.3" y2="577.3" stroke="#ff2900"/><line x1="219.3" y1="577.3" x2="221.5" y2="577.3" stroke="#ff2100"/><line x1="220.5" y1="577.3" x2="222.7" y2="577.2" stroke="#ff1a00"/><line x1="221.7" y1="577.2" x2="223.9" y2="577.2" stroke="#ff1200"/><line x1="222.9" y1="577.2" x2="225.1" y2="577.1" stroke="#ff0b00"/><line x1="224.1" y1="577.1" x2="226.4" y2="577.1" stroke="#ff0400"/><line x1="225.4" y1="577.1" x2="227.6" y2="577.0" stroke="#f80000"/><line x1="226.6" y1="577.1" x2="228.9" y2="577.0" stroke="#ea0000"/><line x1="227.9" y1="577.0" x2="230.1" y2="576.9" stroke="#dc0000"/><line x1="229.1" y1="577.0" x2="231.4" y2="576.9" stroke="#cd0000"/><line x1="230.4" y1="576.9" x2="232.6" y2="576.8" stroke="#bf0000"/><line x1="231.6" y1="576.9" x2="233.9" y2="576.8" stroke="#b10000"/><line x1="232.9" y1="576.8" x2="235.1" y2="576.7" stroke="#a30000"/><line x1="234.1" y1="576.7" x2="236.4" y2="576.6" stroke="#950000"/><line x1="235.4" y1="576.7" x2="237.6" y2="576.5" stroke="#870000"/><line x1="236.6" y1="576.6" x2="238.9" y2="576.3" stroke="#800000"/><line x1="237.9" y1="576.5" x2="240.2" y2="576.2" stroke="#800000"/><line x1="239.2" y1="576.3" x2="241.5" y2="576.0" stroke="#800000"/><line x1="240.6" y1="576.2" x2="242.9" y2="575.9" stroke="#800000"/><line x1="241.9" y1="576.0" x2="244.2" y2="575.7" stroke="#800000"/><line x1="243.2" y1="575.8" x2="245.5" y2="575.5" stroke="#800000"/><line x1="244.5" y1="575.6" x2="246.7" y2="575.3" stroke="#800000"/><line x1="245.7" y1="575.5" x2="247.8" y2="575.2" stroke="#800000"/><line x1="246.8" y1="575.3" x2="248.9" y2="575.0" stroke="#800000"/><line x1="247.9" y1="575.2" x2="250.5" y2="574.9" stroke="#8c0000"/><line x1="249.5" y1="575.0" x2="251.6" y2="574.7" stroke="#a60000"/><line x1="250.6" y1="574.8" x2="252.7" y2="574.6" stroke="#bf0000"/><line x1="251.7" y1="574.7" x2="254.1" y2="574.4" stroke="#d90000"/><line x1="253.1" y1="574.6" x2="256.0" y2="574.2" stroke="#f20000"/><line x1="255.0" y1="574.3" x2="256.9" y2="574.1" stroke="#ff0500"/><line x1="255.9" y1="574.2" x2="257.9" y2="574.0" stroke="#ff0f00"/><line x1="256.9" y1="574.1" x2="258.9" y2="573.8" stroke="#ff1900"/><line x1="257.9" y1="574.0" x2="260.1" y2="573.7" stroke="#ff2200"/><line x1="259.1" y1="573.8" x2="261.2" y2="573.5" stroke="#ff2c00"/><line x1="260.2" y1="573.7" x2="262.5" y2="573.4" stroke="#ff3600"/><line x1="261.5" y1="573.5" x2="263.7" y2="573.2" stroke="#ff4000"/><line x1="262.7" y1="573.3" x2="265.0" y2="573.1" stroke="#ff4a00"/><line x1="264.0" y1="573.2" x2="266.3" y2="572.9" stroke="#ff5300"/><line x1="265.3" y1="573.0" x2="267.6" y2="572.7" stroke="#ff5d00"/><line x1="266.6" y1="572.9" x2="268.9" y2="572.6" stroke="#ff6700"/><line x1="267.9" y1="572.7" x2="270.2" y2="572.4" stroke="#ff7100"/><line x1="269.2" y1="572.5" x2="271.5" y2="572.2" stroke="#ff7b00"/><line x1="270.5" y1="572.4" x2="272.6" y2="572.1" stroke="#ff8400"/><line x1="271.6" y1="572.2" x2="273.8" y2="571.9" stroke="#ff8d00"/><line x1="272.8" y1="572.0" x2="275.0" y2="571.8" stroke="#ff9600"/><line x1="274.0" y1="571.9" x2="276.2" y2="571.6" stroke="#ff9f00"/><line x1="275.2" y1="571.7" x2="277.4" y2="571.4" stroke="#ffa800"/><line x1="276.4" y1="571.6" x2="278.6" y2="571.3" stroke="#ffb200"/><line x1="277.6" y1="571.4" x2="279.8" y2="571.1" stroke="#ffbb00"/><line x1="278.8" y1="571.2" x2="281.1" y2="570.9" stroke="#ffc400"/><line x1="280.1" y1="571.1" x2="282.3" y2="570.8" stroke="#ffcd00"/><line x1="281.3" y1="570.9" x2="283.5" y2="570.6" stroke="#ffd600"/><line x1="282.5" y1="570.7" x2="284.7" y2="570.4" stroke="#ffdf00"/><line x1="283.7" y1="570.6" x2="285.9" y2="570.3" stroke="#ffe800"/><line x1="285.0" y1="570.4" x2="287.2" y2="570.1" stroke="#fff100"/><line x1="286.2" y1="570.2" x2="288.4" y2="570.0" stroke="#fffa00"/><line x1="287.4" y1="570.1" x2="289.6" y2="569.8" stroke="#fffd00"/><line x1="288.6" y1="569.9" x2="290.8" y2="569.7" stroke="#fff800"/><line x1="289.8" y1="569.8" x2="292.0" y2="569.5" stroke="#fff300"/><line x1="291.0" y1="569.7" x2="293.2" y2="569.4" stroke="#ffee00"/><line x1="292.2" y1="569.5" x2="294.4" y2="569.3" stroke="#ffea00"/><line x1="293.4" y1="569.4" x2="295.6" y2="569.1" stroke="#ffe500"/><line x1="294.6" y1="569.2" x2="296.8" y2="569.0" stroke="#ffe000"/><line x1="295.8" y1="569.1" x2="298.0" y2="568.9" stroke="#ffdb00"/><line x1="297.0" y1="569.0" x2="299.3" y2="568.7" stroke="#ffd700"/><line x1="298.3" y1="568.8" x2="300.5" y2="568.6" stroke="#ffd200"/><line x1="299.5" y1="568.7" x2="301.7" y2="568.4" stroke="#ffcd00"/><line x1="300.7" y1="568.6" x2="302.9" y2="568.3" stroke="#ffc900"/><line x1="301.9" y1="568.4" x2="304.1" y2="568.1" stroke="#ffc400"/><line x1="303.1" y1="568.3" x2="305.3" y2="568.0" stroke="#ffbf00"/><line x1="304.3" y1="568.1" x2="306.5" y2="567.8" stroke="#ffbf00"/><line x1="305.5" y1="568.0" x2="307.8" y2="567.7" stroke="#ffc400"/><line x1="306.8" y1="567.8" x2="309.1" y2="567.5" stroke="#ffc900"/><line x1="308.1" y1="567.6" x2="310.4" y2="567.3" stroke="#ffcd00"/><line x1="309.4" y1="567.5" x2="311.7" y2="567.2" stroke="#ffd200"/><line x1="310.7" y1="567.3" x2="313.1" y2="567.0" stroke="#ffd700"/><line x1="312.1" y1="567.1" x2="314.4" y2="566.8" stroke="#ffdb00"/><line x1="313.4" y1="567.0" x2="315.6" y2="566.7" stroke="#ffe000"/><line x1="314.7" y1="566.8" x2="316.9" y2="566.5" stroke="#ffe500"/><line x1="315.9" y1="566.6" x2="318.1" y2="566.3" stroke="#ffea00"/><line x1="317.1" y1="566.5" x2="319.2" y2="566.2" stroke="#ffee00"/><line x1="318.2" y1="566.3" x2="320.3" y2="566.0" stroke="#fff300"/><line x1="319.3" y1="566.2" x2="321.3" y2="565.9" stroke="#fff800"/><line x1="320.3" y1="566.0" x2="322.2" y2="565.7" stroke="#fffd00"/><line x1="321.2" y1="565.9" x2="324.3" y2="565.4" stroke="#ecff13"/><line x1="323.3" y1="565.6" x2="325.8" y2="565.1" stroke="#c6ff39"/><line x1="324.9" y1="565.3" x2="327.1" y2="564.8" stroke="#a1ff5e"/><line x1="326.1" y1="565.0" x2="328.1" y2="564.5" stroke="#7bff84"/><line x1="327.2" y1="564.8" x2="329.2" y2="564.3" stroke="#55ffaa"/><line x1="328.3" y1="564.5" x2="330.6" y2="563.9" stroke="#33ffcc"/><line x1="329.7" y1="564.2" x2="331.8" y2="563.6" stroke="#14ffeb"/><line x1="330.9" y1="563.8" x2="333.0" y2="563.2" stroke="#00f5ff"/><line x1="332.0" y1="563.5" x2="334.0" y2="562.8" stroke="#00d6ff"/><line x1="333.1" y1="563.2" x2="335.5" y2="562.3" stroke="#00beff"/><line x1="334.5" y1="562.6" x2="336.8" y2="561.8" stroke="#00adff"/><line x1="335.8" y1="562.1" x2="337.2" y2="561.6" stroke="#009cff"/><line x1="342.9" y1="559.3" x2="342.9" y2="557.5" stroke="#0042ff"/><line x1="343.1" y1="558.5" x2="342.2" y2="556.3" stroke="#0057ff"/><line x1="342.9" y1="556.8" x2="340.9" y2="556.4" stroke="#0061ff"/><line x1="341.9" y1="556.5" x2="339.5" y2="556.6" stroke="#0061ff"/><line x1="340.5" y1="556.5" x2="338.2" y2="557.0" stroke="#0061ff"/><line x1="339.1" y1="556.7" x2="336.9" y2="557.7" stroke="#0061ff"/><line x1="337.8" y1="557.2" x2="335.7" y2="558.6" stroke="#0061ff"/><line x1="336.5" y1="558.0" x2="334.8" y2="559.6" stroke="#0061ff"/><line x1="335.5" y1="558.9" x2="334.0" y2="561.1" stroke="#006eff"/><line x1="334.3" y1="560.2" x2="334.2" y2="562.9" stroke="#0087ff"/><line x1="334.0" y1="561.9" x2="334.9" y2="563.7" stroke="#008fff"/><line x1="334.4" y1="562.8" x2="335.7" y2="564.6" stroke="#0085ff"/><line x1="335.1" y1="563.8" x2="336.7" y2="565.6" stroke="#007aff"/><line x1="336.0" y1="564.8" x2="337.6" y2="566.6" stroke="#0070ff"/><line x1="336.9" y1="565.9" x2="338.5" y2="567.6" stroke="#0066ff"/><line x1="337.9" y1="566.9" x2="339.5" y2="568.7" stroke="#005dff"/><line x1="338.8" y1="567.9" x2="340.6" y2="569.8" stroke="#0055ff"/><line x1="339.9" y1="569.1" x2="341.7" y2="570.9" stroke="#004dff"/><line x1="341.0" y1="570.2" x2="342.6" y2="571.8" stroke="#0044ff"/><line x1="341.9" y1="571.1" x2="342.9" y2="572.1" stroke="#003cff"/><line x1="340.3" y1="578.7" x2="342.1" y2="577.5" stroke="#0038ff"/><line x1="341.3" y1="578.1" x2="343.1" y2="576.8" stroke="#0038ff"/><line x1="344.6" y1="593.1" x2="345.2" y2="594.3" stroke="#003fff"/><line x1="344.8" y1="593.5" x2="345.8" y2="595.5" stroke="#004dff"/><line x1="345.4" y1="594.6" x2="346.4" y2="596.8" stroke="#005aff"/><line x1="346.0" y1="595.9" x2="346.7" y2="597.9" stroke="#0061ff"/><line x1="346.4" y1="597.0" x2="347.1" y2="599.1" stroke="#0061ff"/><line x1="346.8" y1="598.1" x2="347.4" y2="600.3" stroke="#0061ff"/><line x1="347.2" y1="599.3" x2="347.7" y2="601.6" stroke="#0061ff"/><line x1="347.5" y1="600.6" x2="348.0" y2="602.9" stroke="#0067ff"/><line x1="347.8" y1="601.9" x2="348.2" y2="604.3" stroke="#0074ff"/><line x1="348.0" y1="603.4" x2="348.4" y2="605.8" stroke="#0081ff"/><line x1="348.3" y1="604.8" x2="348.6" y2="607.2" stroke="#008eff"/><line x1="348.5" y1="606.2" x2="348.9" y2="608.8" stroke="#0094ff"/><line x1="348.7" y1="607.8" x2="349.1" y2="610.5" stroke="#0094ff"/><line x1="349.0" y1="609.5" x2="349.3" y2="611.9" stroke="#0094ff"/><line x1="349.2" y1="611.0" x2="349.3" y2="612.9" stroke="#0094ff"/><line x1="349.6" y1="612.7" x2="347.5" y2="610.7" stroke="#0094ff"/><line x1="347.8" y1="610.5" x2="348.0" y2="612.9" stroke="#0094ff"/><line x1="347.9" y1="611.9" x2="348.4" y2="614.8" stroke="#0094ff"/><line x1="348.3" y1="613.8" x2="348.5" y2="616.2" stroke="#0094ff"/><line x1="348.3" y1="615.2" x2="349.2" y2="617.6" stroke="#0094ff"/><line x1="348.7" y1="616.7" x2="350.0" y2="618.4" stroke="#009aff"/><line x1="349.3" y1="617.6" x2="350.9" y2="619.3" stroke="#00a7ff"/><line x1="350.2" y1="618.6" x2="351.9" y2="620.2" stroke="#00b4ff"/><line x1="351.2" y1="619.5" x2="352.9" y2="621.2" stroke="#00c1ff"/><line x1="352.2" y1="620.5" x2="353.8" y2="622.1" stroke="#00c2ff"/><line x1="353.1" y1="621.4" x2="354.8" y2="622.9" stroke="#00b8ff"/><line x1="354.0" y1="622.3" x2="355.8" y2="623.8" stroke="#00adff"/><line x1="355.0" y1="623.1" x2="356.7" y2="624.7" stroke="#00a3ff"/><line x1="356.0" y1="624.0" x2="357.6" y2="625.4" stroke="#0099ff"/><line x1="356.9" y1="624.8" x2="358.7" y2="626.4" stroke="#0088ff"/><line x1="357.9" y1="625.7" x2="359.7" y2="627.4" stroke="#0071ff"/><line x1="359.0" y1="626.7" x2="360.6" y2="628.2" stroke="#005bff"/><line x1="359.8" y1="627.5" x2="360.8" y2="628.4" stroke="#0044ff"/><line x1="360.8" y1="628.4" x2="359.8" y2="629.5" stroke="#0038ff"/><line x1="360.5" y1="628.8" x2="358.9" y2="630.6" stroke="#0038ff"/><line x1="359.5" y1="629.8" x2="357.8" y2="631.6" stroke="#0038ff"/><line x1="358.6" y1="630.9" x2="356.7" y2="632.4" stroke="#0038ff"/><line x1="357.5" y1="631.8" x2="355.6" y2="633.1" stroke="#0038ff"/><line x1="356.3" y1="632.5" x2="354.9" y2="634.1" stroke="#0038ff"/><line x1="355.3" y1="633.3" x2="354.6" y2="635.9" stroke="#0042ff"/><line x1="354.7" y1="634.9" x2="354.9" y2="637.8" stroke="#0057ff"/><line x1="354.8" y1="636.8" x2="355.3" y2="638.9" stroke="#0061ff"/><line x1="355.0" y1="638.0" x2="355.9" y2="640.1" stroke="#0061ff"/><line x1="355.5" y1="639.2" x2="356.4" y2="641.4" stroke="#0061ff"/><line x1="356.0" y1="640.4" x2="357.0" y2="642.5" stroke="#0061ff"/><line x1="356.5" y1="641.6" x2="357.8" y2="643.9" stroke="#005aff"/><line x1="357.3" y1="643.0" x2="358.7" y2="645.1" stroke="#004dff"/><line x1="358.1" y1="644.3" x2="359.4" y2="646.2" stroke="#003fff"/><line x1="358.8" y1="645.4" x2="360.4" y2="647.5" stroke="#0038ff"/><line x1="359.8" y1="646.7" x2="360.8" y2="647.9" stroke="#0038ff"/><line x1="360.8" y1="647.9" x2="359.3" y2="649.3" stroke="#0038ff"/><line x1="360.1" y1="648.6" x2="357.8" y2="650.6" stroke="#0038ff"/><line x1="358.6" y1="650.0" x2="356.3" y2="651.6" stroke="#0042ff"/><line x1="357.1" y1="651.0" x2="355.0" y2="652.7" stroke="#0057ff"/><line x1="355.6" y1="651.9" x2="354.3" y2="654.1" stroke="#006eff"/><line x1="354.7" y1="653.2" x2="353.8" y2="655.7" stroke="#0087ff"/><line x1="354.1" y1="654.7" x2="353.5" y2="656.9" stroke="#00a6ff"/><line x1="353.7" y1="655.9" x2="353.4" y2="658.3" stroke="#00c9ff"/><line x1="353.4" y1="657.3" x2="353.5" y2="659.4" stroke="#00edff"/><line x1="353.2" y1="658.5" x2="354.5" y2="660.2" stroke="#20ffdf"/><line x1="353.8" y1="659.4" x2="355.6" y2="661.5" stroke="#60ff9f"/><line x1="355.1" y1="660.6" x2="355.9" y2="662.4" stroke="#8aff75"/><line x1="355.5" y1="661.5" x2="356.2" y2="663.6" stroke="#9fff60"/><line x1="355.9" y1="662.6" x2="356.6" y2="664.8" stroke="#b5ff4a"/><line x1="356.3" y1="663.8" x2="357.2" y2="666.1" stroke="#caff35"/><line x1="356.8" y1="665.2" x2="357.8" y2="667.4" stroke="#dfff20"/><line x1="357.3" y1="666.5" x2="358.6" y2="668.6" stroke="#f4ff0b"/><line x1="358.1" y1="667.8" x2="359.4" y2="669.4" stroke="#fff700"/><line x1="358.7" y1="668.7" x2="360.2" y2="670.3" stroke="#ffe700"/><line x1="359.5" y1="669.6" x2="361.1" y2="671.2" stroke="#ffd700"/><line x1="360.4" y1="670.5" x2="362.1" y2="672.2" stroke="#ffc700"/><line x1="361.4" y1="671.5" x2="363.1" y2="673.1" stroke="#ffb700"/><line x1="362.3" y1="672.4" x2="364.0" y2="673.9" stroke="#ffa700"/><line x1="363.3" y1="673.3" x2="364.9" y2="674.8" stroke="#ff9700"/><line x1="364.2" y1="674.1" x2="365.8" y2="675.5" stroke="#ff8700"/><line x1="365.0" y1="674.9" x2="366.8" y2="676.5" stroke="#ff8500"/><line x1="366.1" y1="675.8" x2="367.8" y2="677.3" stroke="#ff8f00"/><line x1="367.0" y1="676.6" x2="368.7" y2="678.1" stroke="#ff9900"/><line x1="367.9" y1="677.4" x2="369.6" y2="678.8" stroke="#ffa300"/><line x1="368.8" y1="678.2" x2="370.5" y2="679.5" stroke="#ffad00"/><line x1="369.7" y1="678.9" x2="371.4" y2="680.3" stroke="#ffb800"/><line x1="370.7" y1="679.7" x2="372.4" y2="681.1" stroke="#ffc800"/><line x1="371.6" y1="680.4" x2="373.3" y2="681.8" stroke="#ffde00"/><line x1="372.5" y1="681.2" x2="374.3" y2="682.6" stroke="#fff400"/><line x1="373.5" y1="682.0" x2="375.2" y2="683.4" stroke="#f4ff0b"/><line x1="374.4" y1="682.7" x2="376.1" y2="684.1" stroke="#deff21"/><line x1="375.3" y1="683.5" x2="377.1" y2="684.8" stroke="#c8ff37"/><line x1="376.3" y1="684.2" x2="378.2" y2="685.6" stroke="#aaff55"/><line x1="377.4" y1="685.0" x2="379.3" y2="686.5" stroke="#84ff7b"/><line x1="378.5" y1="685.9" x2="380.5" y2="687.3" stroke="#5effa1"/><line x1="379.7" y1="686.7" x2="381.6" y2="688.0" stroke="#39ffc6"/><line x1="380.8" y1="687.5" x2="382.7" y2="688.7" stroke="#13ffec"/><line x1="381.9" y1="688.2" x2="383.9" y2="689.3" stroke="#00f4ff"/><line x1="383.0" y1="688.9" x2="385.0" y2="689.9" stroke="#00dfff"/><line x1="384.1" y1="689.5" x2="386.2" y2="690.5" stroke="#00c9ff"/><line x1="385.3" y1="690.1" x2="387.3" y2="691.0" stroke="#00b4ff"/><line x1="386.4" y1="690.6" x2="388.4" y2="691.5" stroke="#009fff"/><line x1="387.5" y1="691.1" x2="390.0" y2="692.0" stroke="#0088ff"/><line x1="389.0" y1="691.7" x2="391.6" y2="692.4" stroke="#0071ff"/><line x1="390.7" y1="692.2" x2="393.1" y2="692.8" stroke="#005bff"/><line x1="392.1" y1="692.5" x2="393.6" y2="693.0" stroke="#0044ff"/><line x1="393.6" y1="693.0" x2="392.5" y2="694.0" stroke="#0038ff"/><line x1="393.3" y1="693.3" x2="391.5" y2="695.0" stroke="#0038ff"/><line x1="392.1" y1="694.3" x2="390.7" y2="696.2" stroke="#0038ff"/><line x1="391.0" y1="695.3" x2="390.7" y2="697.4" stroke="#0038ff"/><line x1="390.5" y1="696.5" x2="391.6" y2="698.1" stroke="#0038ff"/><line x1="390.9" y1="697.4" x2="392.7" y2="698.9" stroke="#0038ff"/><line x1="391.9" y1="698.3" x2="394.0" y2="699.7" stroke="#0038ff"/><line x1="393.1" y1="699.2" x2="395.4" y2="700.4" stroke="#0038ff"/><line x1="394.5" y1="700.0" x2="396.9" y2="701.1" stroke="#0038ff"/><line x1="396.0" y1="700.7" x2="397.9" y2="701.4" stroke="#0038ff"/><line x1="397.0" y1="701.1" x2="399.1" y2="701.8" stroke="#0038ff"/><line x1="398.2" y1="701.5" x2="400.3" y2="702.1" stroke="#0038ff"/><line x1="399.4" y1="701.8" x2="401.6" y2="702.4" stroke="#0038ff"/><line x1="400.6" y1="702.1" x2="402.9" y2="702.6" stroke="#0038ff"/><line x1="401.9" y1="702.4" x2="404.1" y2="702.9" stroke="#0038ff"/><line x1="403.2" y1="702.7" x2="405.4" y2="703.2" stroke="#0038ff"/><line x1="404.4" y1="703.0" x2="406.6" y2="703.5" stroke="#0038ff"/><line x1="405.6" y1="703.3" x2="407.8" y2="703.8" stroke="#0038ff"/><line x1="406.9" y1="703.6" x2="409.1" y2="704.0" stroke="#0038ff"/><line x1="408.1" y1="703.8" x2="410.3" y2="704.3" stroke="#0038ff"/><line x1="409.4" y1="704.1" x2="411.6" y2="704.5" stroke="#0038ff"/><line x1="410.6" y1="704.3" x2="412.7" y2="704.9" stroke="#0038ff"/><line x1="411.8" y1="704.6" x2="413.8" y2="705.2" stroke="#0038ff"/><line x1="412.9" y1="704.9" x2="415.3" y2="705.9" stroke="#0038ff"/><line x1="414.4" y1="705.5" x2="416.8" y2="706.6" stroke="#0038ff"/><line x1="415.9" y1="706.2" x2="418.2" y2="707.3" stroke="#0038ff"/><line x1="417.3" y1="706.9" x2="419.4" y2="708.0" stroke="#0038ff"/><line x1="418.5" y1="707.5" x2="419.8" y2="708.2" stroke="#0038ff"/><line x1="419.8" y1="708.2" x2="418.8" y2="709.5" stroke="#0047ff"/><line x1="419.4" y1="708.7" x2="417.8" y2="710.8" stroke="#0066ff"/><line x1="418.4" y1="710.0" x2="416.7" y2="712.2" stroke="#0085ff"/><line x1="417.3" y1="711.5" x2="416.0" y2="713.1" stroke="#009fff"/><line x1="416.6" y1="712.3" x2="415.3" y2="714.0" stroke="#00b4ff"/><line x1="415.9" y1="713.2" x2="414.5" y2="715.0" stroke="#00c9ff"/><line x1="415.1" y1="714.2" x2="413.8" y2="716.0" stroke="#00dfff"/><line x1="414.4" y1="715.2" x2="413.0" y2="717.0" stroke="#00f4ff"/><line x1="413.6" y1="716.2" x2="412.3" y2="718.1" stroke="#00ffff"/><line x1="412.9" y1="717.3" x2="411.6" y2="719.3" stroke="#00ffff"/><line x1="412.1" y1="718.4" x2="410.9" y2="720.4" stroke="#00ffff"/><line x1="411.4" y1="719.6" x2="410.3" y2="721.6" stroke="#00ffff"/><line x1="410.7" y1="720.7" x2="409.7" y2="722.7" stroke="#00ffff"/><line x1="410.1" y1="721.8" x2="409.2" y2="724.1" stroke="#08fff7"/><line x1="409.6" y1="723.1" x2="408.9" y2="725.4" stroke="#19ffe6"/><line x1="409.1" y1="724.5" x2="408.6" y2="726.7" stroke="#29ffd6"/><line x1="408.8" y1="725.7" x2="408.5" y2="727.8" stroke="#3affc5"/><line x1="408.5" y1="726.9" x2="408.8" y2="729.9" stroke="#52ffad"/><line x1="408.6" y1="728.9" x2="409.1" y2="730.7" stroke="#70ff8f"/></g>
<circle cx="155.7" cy="574.5" r="7.8" fill="#00ff00" stroke="#0a6a0a" stroke-width="1.3"/>
<rect x="409.6" y="731.0" width="10.9" height="10.9" fill="#ff0000" stroke="#300000" stroke-width="1.2"/>
<path d="M73.40 434.10V805.50H506.30" fill="none" stroke="#3a3a3a" stroke-width="1.2"/>
<path d="M159.70 805.50v-4.3M246.35 805.50v-4.3M333.00 805.50v-4.3M419.65 805.50v-4.3M506.30 805.50v-4.3M73.40 727.35h4.3M73.40 649.20h4.3M73.40 571.05h4.3M73.40 492.90h4.3" fill="none" stroke="#3a3a3a" stroke-width="1.2"/>
<g font-size="19.90" text-anchor="middle">
<text x="73.0" y="833.8">0</text>
<text x="159.7" y="833.8">5</text>
<text x="246.3" y="833.8">10</text>
<text x="333.0" y="833.8">15</text>
<text x="419.6" y="833.8">20</text>
<text x="506.3" y="833.8">25</text>
</g><g font-size="19.90" text-anchor="end">
<text x="65.5" y="812.9">0</text>
<text x="65.5" y="734.8">5</text>
<text x="65.5" y="656.6">10</text>
<text x="65.5" y="578.4">15</text>
<text x="65.5" y="500.3">20</text>
</g>
<text font-size="21.40" text-anchor="middle" transform="translate(30.1 611.0) rotate(-90)">X Position</text>
<rect x="536.80" y="434.10" width="29.00" height="377.00" fill="url(#jet)"/>
<rect x="537.20" y="434.50" width="28.20" height="376.20" stroke="#000" stroke-opacity="0.45" stroke-width="1" fill="none"/>
<g font-size="17.60">
<text x="573.7" y="734.1">0.5</text>
<text x="573.7" y="647.7">1</text>
<text x="573.7" y="561.3">1.5</text>
<text x="573.7" y="474.9">2</text>
</g>
<path d="M565.80 727.15h-4.8M565.80 640.73h-4.8M565.80 554.32h-4.8M565.80 467.90h-4.8" stroke="#1a1a1a" stroke-opacity="0.85" stroke-width="1" fill="none"/>
<text font-size="17.60" text-anchor="middle" transform="translate(622.6 612.8) rotate(-90)">Speed (m/s)</text>
</g>
<g><line x1="792.08" y1="434.10" x2="792.08" y2="805.50" stroke="#dcdcdc" stroke-width="0.7"/><line x1="878.75" y1="434.10" x2="878.75" y2="805.50" stroke="#dcdcdc" stroke-width="0.7"/><line x1="965.42" y1="434.10" x2="965.42" y2="805.50" stroke="#dcdcdc" stroke-width="0.7"/><line x1="1052.10" y1="434.10" x2="1052.10" y2="805.50" stroke="#dcdcdc" stroke-width="0.7"/><line x1="1138.78" y1="434.10" x2="1138.78" y2="805.50" stroke="#dcdcdc" stroke-width="0.7"/><line x1="706.00" y1="727.35" x2="1138.78" y2="727.35" stroke="#dcdcdc" stroke-width="0.7"/><line x1="706.00" y1="649.20" x2="1138.78" y2="649.20" stroke="#dcdcdc" stroke-width="0.7"/><line x1="706.00" y1="571.05" x2="1138.78" y2="571.05" stroke="#dcdcdc" stroke-width="0.7"/><line x1="706.00" y1="492.90" x2="1138.78" y2="492.90" stroke="#dcdcdc" stroke-width="0.7"/><rect x="774.74" y="445.20" width="34.37" height="31.10" fill="#0000ff" stroke="#000066" stroke-width="1"/><rect x="982.76" y="445.20" width="34.37" height="31.10" fill="#0000ff" stroke="#000066" stroke-width="1"/><rect x="1069.43" y="460.90" width="34.37" height="31.10" fill="#0000ff" stroke="#000066" stroke-width="1"/><rect x="757.40" y="523.70" width="34.37" height="31.10" fill="#0000ff" stroke="#000066" stroke-width="1"/><rect x="861.41" y="508.00" width="34.37" height="31.10" fill="#0000ff" stroke="#000066" stroke-width="1"/><rect x="982.76" y="555.10" width="34.37" height="31.10" fill="#0000ff" stroke="#000066" stroke-width="1"/><rect x="1086.77" y="570.80" width="34.37" height="31.10" fill="#0000ff" stroke="#000066" stroke-width="1"/><rect x="930.75" y="586.50" width="34.37" height="31.10" fill="#0000ff" stroke="#000066" stroke-width="1"/><rect x="826.75" y="602.20" width="34.37" height="31.10" fill="#0000ff" stroke="#000066" stroke-width="1"/><rect x="1000.10" y="617.90" width="34.37" height="31.10" fill="#0000ff" stroke="#000066" stroke-width="1"/><rect x="896.09" y="633.60" width="34.37" height="31.10" fill="#0000ff" stroke="#000066" stroke-width="1"/><rect x="1069.43" y="633.60" width="34.37" height="31.10" fill="#0000ff" stroke="#000066" stroke-width="1"/><rect x="740.07" y="649.30" width="34.37" height="31.10" fill="#0000ff" stroke="#000066" stroke-width="1"/><rect x="809.41" y="665.00" width="34.37" height="31.10" fill="#0000ff" stroke="#000066" stroke-width="1"/><rect x="1034.76" y="665.00" width="34.37" height="31.10" fill="#0000ff" stroke="#000066" stroke-width="1"/><rect x="1086.77" y="696.40" width="34.37" height="31.10" fill="#0000ff" stroke="#000066" stroke-width="1"/><rect x="878.75" y="712.10" width="34.37" height="31.10" fill="#0000ff" stroke="#000066" stroke-width="1"/><rect x="982.76" y="712.10" width="34.37" height="31.10" fill="#0000ff" stroke="#000066" stroke-width="1"/><rect x="774.74" y="759.20" width="34.37" height="31.10" fill="#0000ff" stroke="#000066" stroke-width="1"/><rect x="1034.76" y="759.20" width="34.37" height="31.10" fill="#0000ff" stroke="#000066" stroke-width="1"/><g stroke-width="3.6" stroke-linecap="butt" fill="none"><line x1="1105.6" y1="669.9" x2="1104.2" y2="670.0" stroke="#0066ff"/><line x1="1105.2" y1="669.9" x2="1102.9" y2="670.1" stroke="#0070ff"/><line x1="1103.9" y1="670.0" x2="1101.4" y2="670.3" stroke="#007aff"/><line x1="1102.4" y1="670.2" x2="1099.8" y2="670.4" stroke="#0085ff"/><line x1="1100.8" y1="670.3" x2="1098.3" y2="670.6" stroke="#008fff"/><line x1="1099.3" y1="670.5" x2="1097.1" y2="670.7" stroke="#0098ff"/><line x1="1098.1" y1="670.6" x2="1095.9" y2="670.8" stroke="#00a1ff"/><line x1="1096.9" y1="670.7" x2="1094.7" y2="671.0" stroke="#00a9ff"/><line x1="1095.7" y1="670.9" x2="1093.5" y2="671.2" stroke="#00b2ff"/><line x1="1094.4" y1="671.0" x2="1092.3" y2="671.3" stroke="#00baff"/><line x1="1093.3" y1="671.2" x2="1091.1" y2="671.5" stroke="#00c3ff"/><line x1="1092.1" y1="671.4" x2="1089.8" y2="671.7" stroke="#00c7ff"/><line x1="1090.8" y1="671.5" x2="1088.5" y2="671.9" stroke="#00c7ff"/><line x1="1089.5" y1="671.8" x2="1087.3" y2="672.1" stroke="#00c7ff"/><line x1="1088.3" y1="672.0" x2="1086.1" y2="672.3" stroke="#00c7ff"/><line x1="1087.1" y1="672.2" x2="1085.0" y2="672.5" stroke="#00c7ff"/><line x1="1086.0" y1="672.4" x2="1083.5" y2="672.8" stroke="#00beff"/><line x1="1084.5" y1="672.6" x2="1082.2" y2="673.1" stroke="#00adff"/><line x1="1083.2" y1="672.9" x2="1080.9" y2="673.4" stroke="#009cff"/><line x1="1081.9" y1="673.2" x2="1079.6" y2="673.6" stroke="#008bff"/><line x1="1080.6" y1="673.4" x2="1078.4" y2="673.8" stroke="#007aff"/><line x1="1079.4" y1="673.6" x2="1077.4" y2="674.0" stroke="#0069ff"/><line x1="1078.3" y1="673.7" x2="1076.3" y2="674.3" stroke="#004dff"/><line x1="1076.5" y1="674.1" x2="1077.0" y2="675.9" stroke="#0038ff"/><line x1="1076.7" y1="674.9" x2="1077.7" y2="677.8" stroke="#0038ff"/><line x1="1077.3" y1="676.9" x2="1078.3" y2="679.0" stroke="#0038ff"/><line x1="1077.9" y1="678.1" x2="1079.1" y2="680.4" stroke="#0038ff"/><line x1="1078.6" y1="679.5" x2="1079.8" y2="681.8" stroke="#0038ff"/><line x1="1079.4" y1="680.9" x2="1080.4" y2="683.1" stroke="#0038ff"/><line x1="1080.0" y1="682.2" x2="1081.0" y2="684.7" stroke="#0038ff"/><line x1="1080.7" y1="683.7" x2="1081.6" y2="686.0" stroke="#0038ff"/><line x1="1081.2" y1="685.1" x2="1081.7" y2="686.5" stroke="#0038ff"/><line x1="1076.8" y1="697.6" x2="1075.8" y2="699.2" stroke="#0038ff"/><line x1="1076.3" y1="698.4" x2="1075.3" y2="700.0" stroke="#0038ff"/><line x1="1076.5" y1="699.0" x2="1074.9" y2="699.8" stroke="#0042ff"/><line x1="1075.8" y1="699.4" x2="1073.3" y2="700.4" stroke="#0057ff"/><line x1="1074.3" y1="700.1" x2="1072.2" y2="700.6" stroke="#006eff"/><line x1="1073.1" y1="700.4" x2="1070.7" y2="700.9" stroke="#0087ff"/><line x1="1071.7" y1="700.7" x2="1069.6" y2="701.2" stroke="#009aff"/><line x1="1070.6" y1="701.0" x2="1068.3" y2="701.5" stroke="#00a7ff"/><line x1="1069.3" y1="701.2" x2="1067.0" y2="701.8" stroke="#00b4ff"/><line x1="1067.9" y1="701.5" x2="1065.6" y2="702.0" stroke="#00c1ff"/><line x1="1066.6" y1="701.8" x2="1064.5" y2="702.3" stroke="#00ceff"/><line x1="1065.5" y1="702.1" x2="1063.4" y2="702.5" stroke="#00dcff"/><line x1="1064.4" y1="702.3" x2="1062.2" y2="702.8" stroke="#00eaff"/><line x1="1063.1" y1="702.6" x2="1060.5" y2="703.2" stroke="#00f8ff"/><line x1="1061.5" y1="702.9" x2="1059.5" y2="703.4" stroke="#04fffb"/><line x1="1060.5" y1="703.2" x2="1058.3" y2="703.7" stroke="#0cfff3"/><line x1="1059.3" y1="703.5" x2="1057.1" y2="704.0" stroke="#15ffea"/><line x1="1058.1" y1="703.8" x2="1055.8" y2="704.4" stroke="#1dffe2"/><line x1="1056.7" y1="704.1" x2="1054.4" y2="704.7" stroke="#25ffda"/><line x1="1055.4" y1="704.5" x2="1053.0" y2="705.1" stroke="#2effd1"/><line x1="1054.0" y1="704.8" x2="1051.6" y2="705.4" stroke="#36ffc9"/><line x1="1052.6" y1="705.2" x2="1050.3" y2="705.7" stroke="#3effc1"/><line x1="1051.3" y1="705.5" x2="1049.0" y2="706.0" stroke="#42ffbd"/><line x1="1050.0" y1="705.8" x2="1047.7" y2="706.3" stroke="#42ffbd"/><line x1="1048.7" y1="706.1" x2="1046.4" y2="706.6" stroke="#42ffbd"/><line x1="1047.4" y1="706.4" x2="1045.1" y2="706.9" stroke="#42ffbd"/><line x1="1046.1" y1="706.7" x2="1043.8" y2="707.2" stroke="#42ffbd"/><line x1="1044.8" y1="707.0" x2="1042.5" y2="707.5" stroke="#42ffbd"/><line x1="1043.5" y1="707.3" x2="1041.3" y2="707.8" stroke="#42ffbd"/><line x1="1042.3" y1="707.6" x2="1040.1" y2="708.1" stroke="#42ffbd"/><line x1="1041.1" y1="707.8" x2="1038.8" y2="708.4" stroke="#3effc1"/><line x1="1039.8" y1="708.2" x2="1037.5" y2="708.8" stroke="#34ffcb"/><line x1="1038.5" y1="708.5" x2="1036.2" y2="709.1" stroke="#2bffd4"/><line x1="1037.2" y1="708.8" x2="1035.0" y2="709.5" stroke="#21ffde"/><line x1="1036.0" y1="709.2" x2="1033.9" y2="709.8" stroke="#18ffe7"/><line x1="1034.9" y1="709.5" x2="1032.9" y2="710.1" stroke="#0efff1"/><line x1="1033.8" y1="709.8" x2="1032.0" y2="710.3" stroke="#05fffa"/><line x1="1032.9" y1="710.1" x2="1030.5" y2="710.8" stroke="#00edff"/><line x1="1031.5" y1="710.5" x2="1029.6" y2="711.1" stroke="#00c9ff"/><line x1="1030.5" y1="710.8" x2="1028.4" y2="711.6" stroke="#00a6ff"/><line x1="1029.3" y1="711.2" x2="1027.3" y2="712.1" stroke="#008bff"/><line x1="1028.2" y1="711.7" x2="1026.1" y2="712.7" stroke="#0078ff"/><line x1="1027.0" y1="712.3" x2="1024.8" y2="713.4" stroke="#0066ff"/><line x1="1025.7" y1="712.9" x2="1023.6" y2="713.9" stroke="#0054ff"/><line x1="1024.5" y1="713.5" x2="1023.3" y2="714.1" stroke="#0041ff"/><line x1="1023.3" y1="714.1" x2="1024.5" y2="713.1" stroke="#0038ff"/><line x1="1023.7" y1="713.7" x2="1025.7" y2="712.2" stroke="#0038ff"/><line x1="1025.0" y1="712.8" x2="1027.0" y2="711.2" stroke="#0038ff"/><line x1="1026.2" y1="711.9" x2="1027.9" y2="710.3" stroke="#0038ff"/><line x1="1027.3" y1="711.0" x2="1028.7" y2="708.7" stroke="#0038ff"/><line x1="1028.4" y1="709.6" x2="1028.6" y2="707.4" stroke="#0038ff"/><line x1="1028.8" y1="708.3" x2="1027.7" y2="706.2" stroke="#0042ff"/><line x1="1028.3" y1="707.0" x2="1026.5" y2="705.4" stroke="#0057ff"/><line x1="1027.3" y1="706.0" x2="1025.4" y2="704.9" stroke="#006eff"/><line x1="1026.3" y1="705.3" x2="1023.8" y2="704.4" stroke="#0087ff"/><line x1="1024.8" y1="704.8" x2="1022.8" y2="704.1" stroke="#009fff"/><line x1="1023.7" y1="704.4" x2="1021.5" y2="703.6" stroke="#00b4ff"/><line x1="1022.5" y1="704.0" x2="1020.2" y2="703.2" stroke="#00c9ff"/><line x1="1021.1" y1="703.5" x2="1018.8" y2="702.8" stroke="#00dfff"/><line x1="1019.8" y1="703.1" x2="1017.7" y2="702.4" stroke="#00f4ff"/><line x1="1018.6" y1="702.7" x2="1016.2" y2="702.0" stroke="#15ffea"/><line x1="1017.1" y1="702.2" x2="1014.9" y2="701.7" stroke="#40ffbf"/><line x1="1015.9" y1="701.9" x2="1013.6" y2="701.4" stroke="#6aff95"/><line x1="1014.6" y1="701.6" x2="1012.6" y2="701.3" stroke="#95ff6a"/><line x1="1013.6" y1="701.4" x2="1011.6" y2="701.2" stroke="#bfff40"/><line x1="1012.6" y1="701.3" x2="1009.5" y2="700.7" stroke="#eaff15"/><line x1="1010.5" y1="700.9" x2="1008.7" y2="700.5" stroke="#fffa00"/><line x1="1009.7" y1="700.7" x2="1007.7" y2="700.3" stroke="#ffef00"/><line x1="1008.7" y1="700.5" x2="1006.7" y2="700.1" stroke="#ffe400"/><line x1="1007.6" y1="700.3" x2="1005.5" y2="699.8" stroke="#ffda00"/><line x1="1006.5" y1="700.1" x2="1004.3" y2="699.6" stroke="#ffcf00"/><line x1="1005.2" y1="699.8" x2="1003.0" y2="699.3" stroke="#ffc500"/><line x1="1004.0" y1="699.5" x2="1001.7" y2="699.0" stroke="#ffba00"/><line x1="1002.7" y1="699.2" x2="1000.3" y2="698.7" stroke="#ffaf00"/><line x1="1001.3" y1="698.9" x2="999.0" y2="698.4" stroke="#ffa500"/><line x1="1000.0" y1="698.6" x2="997.7" y2="698.1" stroke="#ff9a00"/><line x1="998.6" y1="698.3" x2="996.4" y2="697.8" stroke="#ff8f00"/><line x1="997.3" y1="698.0" x2="995.1" y2="697.6" stroke="#ff8500"/><line x1="996.1" y1="697.8" x2="993.9" y2="697.3" stroke="#ff7a00"/><line x1="994.9" y1="697.5" x2="992.6" y2="697.1" stroke="#ff7000"/><line x1="993.6" y1="697.3" x2="991.4" y2="696.8" stroke="#ff6500"/><line x1="992.3" y1="697.0" x2="990.1" y2="696.5" stroke="#ff5a00"/><line x1="991.1" y1="696.7" x2="988.8" y2="696.3" stroke="#ff5000"/><line x1="989.8" y1="696.5" x2="987.5" y2="696.0" stroke="#ff4500"/><line x1="988.5" y1="696.2" x2="986.2" y2="695.8" stroke="#ff3a00"/><line x1="987.2" y1="696.0" x2="985.0" y2="695.5" stroke="#ff3000"/><line x1="986.0" y1="695.7" x2="983.7" y2="695.3" stroke="#ff2500"/><line x1="984.7" y1="695.5" x2="982.5" y2="695.0" stroke="#ff1b00"/><line x1="983.5" y1="695.2" x2="981.3" y2="694.8" stroke="#ff1000"/><line x1="982.3" y1="695.0" x2="980.2" y2="694.6" stroke="#ff0500"/><line x1="981.2" y1="694.8" x2="978.9" y2="694.4" stroke="#f90000"/><line x1="979.9" y1="694.5" x2="977.6" y2="694.1" stroke="#ec0000"/><line x1="978.6" y1="694.3" x2="976.4" y2="693.9" stroke="#df0000"/><line x1="977.4" y1="694.1" x2="975.2" y2="693.7" stroke="#d20000"/><line x1="976.2" y1="693.9" x2="974.1" y2="693.5" stroke="#c60000"/><line x1="975.0" y1="693.7" x2="972.9" y2="693.3" stroke="#b90000"/><line x1="973.9" y1="693.5" x2="971.8" y2="693.1" stroke="#ac0000"/><line x1="972.7" y1="693.3" x2="970.6" y2="692.9" stroke="#9f0000"/><line x1="971.6" y1="693.1" x2="969.5" y2="692.7" stroke="#930000"/><line x1="970.4" y1="692.9" x2="968.3" y2="692.5" stroke="#860000"/><line x1="969.3" y1="692.7" x2="967.1" y2="692.3" stroke="#800000"/><line x1="968.1" y1="692.5" x2="965.9" y2="692.1" stroke="#800000"/><line x1="966.9" y1="692.3" x2="964.7" y2="691.9" stroke="#800000"/><line x1="965.7" y1="692.1" x2="963.5" y2="691.7" stroke="#800000"/><line x1="964.5" y1="691.8" x2="962.3" y2="691.4" stroke="#800000"/><line x1="963.3" y1="691.6" x2="961.1" y2="691.2" stroke="#800000"/><line x1="962.1" y1="691.4" x2="959.9" y2="691.0" stroke="#800000"/><line x1="960.9" y1="691.2" x2="958.7" y2="690.8" stroke="#800000"/><line x1="959.7" y1="691.0" x2="957.5" y2="690.6" stroke="#800000"/><line x1="958.5" y1="690.8" x2="956.3" y2="690.4" stroke="#800000"/><line x1="957.3" y1="690.6" x2="955.2" y2="690.3" stroke="#800000"/><line x1="956.2" y1="690.4" x2="954.0" y2="690.1" stroke="#800000"/><line x1="955.0" y1="690.2" x2="952.9" y2="689.9" stroke="#800000"/><line x1="953.8" y1="690.1" x2="951.7" y2="689.8" stroke="#800000"/><line x1="952.7" y1="689.9" x2="950.6" y2="689.6" stroke="#800000"/><line x1="951.6" y1="689.8" x2="949.4" y2="689.5" stroke="#800000"/><line x1="950.4" y1="689.6" x2="948.2" y2="689.4" stroke="#800000"/><line x1="949.2" y1="689.5" x2="947.0" y2="689.2" stroke="#800000"/><line x1="948.0" y1="689.3" x2="945.7" y2="689.1" stroke="#800000"/><line x1="946.7" y1="689.2" x2="944.4" y2="689.0" stroke="#800000"/><line x1="945.4" y1="689.1" x2="943.3" y2="688.9" stroke="#850000"/><line x1="944.3" y1="689.0" x2="942.1" y2="688.8" stroke="#8f0000"/><line x1="943.1" y1="688.9" x2="940.9" y2="688.7" stroke="#9a0000"/><line x1="941.9" y1="688.8" x2="939.7" y2="688.6" stroke="#a50000"/><line x1="940.7" y1="688.7" x2="938.4" y2="688.5" stroke="#af0000"/><line x1="939.4" y1="688.6" x2="937.1" y2="688.4" stroke="#ba0000"/><line x1="938.1" y1="688.5" x2="935.9" y2="688.4" stroke="#c50000"/><line x1="936.9" y1="688.4" x2="934.6" y2="688.3" stroke="#cf0000"/><line x1="935.6" y1="688.4" x2="933.3" y2="688.2" stroke="#da0000"/><line x1="934.3" y1="688.3" x2="932.0" y2="688.2" stroke="#e40000"/><line x1="933.0" y1="688.2" x2="930.7" y2="688.2" stroke="#ef0000"/><line x1="931.7" y1="688.2" x2="929.5" y2="688.1" stroke="#fa0000"/><line x1="930.5" y1="688.1" x2="928.3" y2="688.1" stroke="#ff0300"/><line x1="929.3" y1="688.1" x2="927.0" y2="688.1" stroke="#ff0800"/><line x1="928.0" y1="688.1" x2="925.8" y2="688.1" stroke="#ff0e00"/><line x1="926.8" y1="688.1" x2="924.5" y2="688.1" stroke="#ff1300"/><line x1="925.5" y1="688.1" x2="923.3" y2="688.2" stroke="#ff1900"/><line x1="924.3" y1="688.1" x2="922.1" y2="688.2" stroke="#ff1e00"/><line x1="923.1" y1="688.2" x2="920.8" y2="688.2" stroke="#ff2400"/><line x1="921.8" y1="688.2" x2="919.6" y2="688.3" stroke="#ff2900"/><line x1="920.6" y1="688.2" x2="918.3" y2="688.3" stroke="#ff2f00"/><line x1="919.3" y1="688.3" x2="917.1" y2="688.4" stroke="#ff3400"/><line x1="918.1" y1="688.3" x2="915.8" y2="688.4" stroke="#ff3a00"/><line x1="916.8" y1="688.4" x2="914.6" y2="688.5" stroke="#ff4000"/><line x1="915.6" y1="688.4" x2="913.3" y2="688.5" stroke="#ff4000"/><line x1="914.3" y1="688.5" x2="912.0" y2="688.6" stroke="#ff3a00"/><line x1="913.0" y1="688.5" x2="910.7" y2="688.6" stroke="#ff3400"/><line x1="911.7" y1="688.6" x2="909.3" y2="688.7" stroke="#ff2f00"/><line x1="910.3" y1="688.7" x2="908.0" y2="688.8" stroke="#ff2900"/><line x1="909.0" y1="688.7" x2="906.6" y2="688.9" stroke="#ff2400"/><line x1="907.6" y1="688.8" x2="905.3" y2="689.0" stroke="#ff1e00"/><line x1="906.3" y1="688.9" x2="904.0" y2="689.0" stroke="#ff1900"/><line x1="905.0" y1="689.0" x2="902.8" y2="689.1" stroke="#ff1300"/><line x1="903.8" y1="689.0" x2="901.6" y2="689.2" stroke="#ff0e00"/><line x1="902.6" y1="689.1" x2="900.5" y2="689.3" stroke="#ff0800"/><line x1="901.5" y1="689.2" x2="899.5" y2="689.3" stroke="#ff0300"/><line x1="900.5" y1="689.3" x2="897.7" y2="689.4" stroke="#fa0000"/><line x1="898.7" y1="689.4" x2="896.1" y2="689.5" stroke="#f10000"/><line x1="897.1" y1="689.5" x2="894.7" y2="689.6" stroke="#e80000"/><line x1="895.7" y1="689.6" x2="893.5" y2="689.7" stroke="#de0000"/><line x1="894.4" y1="689.6" x2="892.3" y2="689.8" stroke="#d50000"/><line x1="893.3" y1="689.7" x2="891.1" y2="689.8" stroke="#cc0000"/><line x1="892.1" y1="689.8" x2="889.6" y2="689.9" stroke="#ce0000"/><line x1="890.6" y1="689.9" x2="888.4" y2="689.9" stroke="#dc0000"/><line x1="889.4" y1="689.9" x2="887.2" y2="689.9" stroke="#ea0000"/><line x1="888.2" y1="689.9" x2="885.9" y2="689.9" stroke="#f80000"/><line x1="886.9" y1="689.9" x2="884.6" y2="689.9" stroke="#ff0d00"/><line x1="885.6" y1="689.9" x2="883.3" y2="689.9" stroke="#ff2600"/><line x1="884.3" y1="689.9" x2="881.9" y2="689.9" stroke="#ff4000"/><line x1="882.9" y1="689.9" x2="880.6" y2="689.8" stroke="#ff5900"/><line x1="881.6" y1="689.9" x2="879.5" y2="689.8" stroke="#ff7300"/><line x1="880.5" y1="689.8" x2="878.0" y2="689.7" stroke="#ff9500"/><line x1="879.0" y1="689.8" x2="876.8" y2="689.6" stroke="#ffbf00"/><line x1="877.8" y1="689.8" x2="875.6" y2="689.4" stroke="#ffea00"/><line x1="876.6" y1="689.6" x2="874.2" y2="689.1" stroke="#f4ff0b"/><line x1="875.2" y1="689.4" x2="872.8" y2="688.7" stroke="#deff21"/><line x1="873.7" y1="689.1" x2="871.3" y2="688.0" stroke="#c8ff37"/><line x1="872.2" y1="688.5" x2="870.3" y2="687.4" stroke="#b0ff4f"/><line x1="871.2" y1="687.9" x2="869.2" y2="686.8" stroke="#98ff67"/><line x1="870.0" y1="687.3" x2="868.1" y2="686.0" stroke="#80ff80"/><line x1="868.9" y1="686.6" x2="867.0" y2="685.2" stroke="#67ff98"/><line x1="867.8" y1="685.8" x2="866.1" y2="684.2" stroke="#4fffb0"/><line x1="866.8" y1="684.9" x2="865.4" y2="683.0" stroke="#48ffb7"/><line x1="865.9" y1="683.9" x2="864.7" y2="681.8" stroke="#55ffaa"/><line x1="865.1" y1="682.7" x2="864.1" y2="680.5" stroke="#61ff9e"/><line x1="864.5" y1="681.4" x2="863.6" y2="679.1" stroke="#6dff92"/><line x1="863.9" y1="680.0" x2="863.1" y2="677.7" stroke="#79ff86"/><line x1="863.4" y1="678.7" x2="862.9" y2="676.5" stroke="#80ff80"/><line x1="863.1" y1="677.5" x2="862.7" y2="675.3" stroke="#80ff80"/><line x1="862.8" y1="676.3" x2="862.5" y2="674.1" stroke="#80ff80"/><line x1="862.6" y1="675.1" x2="862.5" y2="672.9" stroke="#80ff80"/><line x1="862.5" y1="673.9" x2="862.5" y2="671.6" stroke="#80ff80"/><line x1="862.5" y1="672.6" x2="862.6" y2="670.3" stroke="#80ff80"/><line x1="862.5" y1="671.3" x2="862.8" y2="669.1" stroke="#80ff80"/><line x1="862.6" y1="670.1" x2="863.0" y2="667.9" stroke="#80ff80"/><line x1="862.8" y1="668.9" x2="863.3" y2="666.7" stroke="#80ff80"/><line x1="863.1" y1="667.6" x2="863.7" y2="665.4" stroke="#80ff80"/><line x1="863.4" y1="666.4" x2="864.1" y2="664.2" stroke="#80ff80"/><line x1="863.8" y1="665.2" x2="864.4" y2="663.0" stroke="#80ff80"/><line x1="864.1" y1="663.9" x2="864.8" y2="661.8" stroke="#80ff80"/><line x1="864.5" y1="662.8" x2="865.3" y2="660.5" stroke="#7aff85"/><line x1="864.9" y1="661.5" x2="865.9" y2="659.2" stroke="#70ff8f"/><line x1="865.5" y1="660.2" x2="866.4" y2="658.0" stroke="#66ff99"/><line x1="866.0" y1="658.9" x2="867.0" y2="656.8" stroke="#5cffa3"/><line x1="866.6" y1="657.7" x2="867.4" y2="655.6" stroke="#52ffad"/><line x1="867.1" y1="656.5" x2="867.8" y2="654.4" stroke="#47ffb8"/><line x1="867.5" y1="655.4" x2="868.3" y2="652.9" stroke="#3affc5"/><line x1="868.0" y1="653.8" x2="868.7" y2="651.4" stroke="#29ffd6"/><line x1="868.5" y1="652.4" x2="868.8" y2="650.0" stroke="#19ffe6"/><line x1="868.8" y1="651.0" x2="868.5" y2="648.6" stroke="#08fff7"/><line x1="868.7" y1="649.6" x2="868.1" y2="647.6" stroke="#00f6ff"/><line x1="868.5" y1="648.5" x2="867.5" y2="646.5" stroke="#00e4ff"/><line x1="868.0" y1="647.4" x2="866.8" y2="645.4" stroke="#00d2ff"/><line x1="867.4" y1="646.2" x2="866.0" y2="644.4" stroke="#00c1ff"/><line x1="866.7" y1="645.2" x2="865.2" y2="643.4" stroke="#00afff"/><line x1="865.9" y1="644.1" x2="864.3" y2="642.6" stroke="#009dff"/><line x1="865.1" y1="643.3" x2="863.2" y2="641.8" stroke="#0094ff"/><line x1="864.0" y1="642.4" x2="862.0" y2="641.1" stroke="#0094ff"/><line x1="862.9" y1="641.6" x2="860.7" y2="640.6" stroke="#0094ff"/><line x1="861.6" y1="641.0" x2="859.3" y2="640.2" stroke="#0094ff"/><line x1="860.3" y1="640.5" x2="857.8" y2="640.0" stroke="#0094ff"/><line x1="858.8" y1="640.1" x2="856.7" y2="639.9" stroke="#009cff"/><line x1="857.7" y1="640.0" x2="855.5" y2="640.0" stroke="#00abff"/><line x1="856.5" y1="639.9" x2="854.2" y2="640.0" stroke="#00baff"/><line x1="855.2" y1="640.0" x2="852.9" y2="640.2" stroke="#00c9ff"/><line x1="853.9" y1="640.1" x2="851.6" y2="640.4" stroke="#00d9ff"/><line x1="852.6" y1="640.2" x2="850.2" y2="640.6" stroke="#00e8ff"/><line x1="851.2" y1="640.4" x2="848.8" y2="640.8" stroke="#00f7ff"/><line x1="849.8" y1="640.6" x2="847.7" y2="641.0" stroke="#04fffb"/><line x1="848.7" y1="640.8" x2="846.6" y2="641.3" stroke="#0bfff4"/><line x1="847.6" y1="641.1" x2="845.5" y2="641.5" stroke="#12ffed"/><line x1="846.4" y1="641.3" x2="844.3" y2="641.8" stroke="#1affe5"/><line x1="845.3" y1="641.6" x2="843.1" y2="642.2" stroke="#21ffde"/><line x1="844.1" y1="641.9" x2="841.9" y2="642.5" stroke="#29ffd6"/><line x1="842.9" y1="642.2" x2="840.7" y2="642.8" stroke="#30ffcf"/><line x1="841.7" y1="642.5" x2="839.5" y2="643.1" stroke="#37ffc8"/><line x1="840.4" y1="642.9" x2="838.3" y2="643.4" stroke="#3fffc0"/><line x1="839.2" y1="643.2" x2="837.0" y2="643.7" stroke="#46ffb9"/><line x1="838.0" y1="643.4" x2="835.8" y2="644.0" stroke="#4cffb3"/><line x1="836.7" y1="643.8" x2="834.5" y2="644.3" stroke="#53ffac"/><line x1="835.4" y1="644.1" x2="833.2" y2="644.6" stroke="#5affa5"/><line x1="834.1" y1="644.4" x2="831.9" y2="644.9" stroke="#61ff9e"/><line x1="832.8" y1="644.7" x2="830.6" y2="645.2" stroke="#68ff97"/><line x1="831.6" y1="645.0" x2="829.4" y2="645.5" stroke="#6eff90"/><line x1="830.4" y1="645.3" x2="828.2" y2="645.8" stroke="#75ff8a"/><line x1="829.2" y1="645.6" x2="827.2" y2="646.0" stroke="#7cff83"/><line x1="828.1" y1="645.8" x2="825.7" y2="646.3" stroke="#8aff75"/><line x1="826.7" y1="646.1" x2="824.5" y2="646.6" stroke="#9fff60"/><line x1="825.5" y1="646.4" x2="823.4" y2="646.8" stroke="#b5ff4a"/><line x1="824.3" y1="646.6" x2="822.2" y2="647.0" stroke="#caff35"/><line x1="823.2" y1="646.8" x2="821.1" y2="647.2" stroke="#dfff20"/><line x1="822.1" y1="647.0" x2="819.7" y2="647.4" stroke="#f4ff0b"/><line x1="820.7" y1="647.2" x2="818.5" y2="647.5" stroke="#fff600"/><line x1="819.5" y1="647.4" x2="817.2" y2="647.6" stroke="#ffe400"/><line x1="818.2" y1="647.5" x2="815.8" y2="647.8" stroke="#ffd100"/><line x1="816.8" y1="647.7" x2="814.4" y2="647.9" stroke="#ffbf00"/><line x1="815.4" y1="647.8" x2="813.0" y2="648.0" stroke="#ffad00"/><line x1="814.0" y1="647.9" x2="811.6" y2="648.1" stroke="#ff9b00"/><line x1="812.6" y1="648.0" x2="810.2" y2="648.2" stroke="#ff8900"/><line x1="811.2" y1="648.1" x2="808.9" y2="648.3" stroke="#ff8900"/><line x1="809.9" y1="648.2" x2="807.6" y2="648.3" stroke="#ff9b00"/><line x1="808.6" y1="648.3" x2="806.2" y2="648.4" stroke="#ffad00"/><line x1="807.2" y1="648.4" x2="804.9" y2="648.5" stroke="#ffbf00"/><line x1="805.9" y1="648.4" x2="803.6" y2="648.5" stroke="#ffd100"/><line x1="804.6" y1="648.5" x2="802.4" y2="648.6" stroke="#ffe400"/><line x1="803.4" y1="648.5" x2="801.2" y2="648.6" stroke="#fff600"/><line x1="802.2" y1="648.6" x2="799.7" y2="648.6" stroke="#f8ff07"/><line x1="800.7" y1="648.6" x2="798.2" y2="648.5" stroke="#ebff14"/><line x1="799.2" y1="648.5" x2="796.8" y2="648.4" stroke="#deff21"/><line x1="797.8" y1="648.5" x2="795.5" y2="648.4" stroke="#d1ff2e"/><line x1="796.5" y1="648.4" x2="794.4" y2="648.3" stroke="#c3ff3c"/><line x1="795.4" y1="648.4" x2="792.8" y2="648.2" stroke="#bdff42"/><line x1="793.8" y1="648.3" x2="791.5" y2="648.2" stroke="#bdff42"/><line x1="792.5" y1="648.2" x2="791.2" y2="648.1" stroke="#bdff42"/></g>
<circle cx="1117.1" cy="668.6" r="7.8" fill="#00ff00" stroke="#0a6a0a" stroke-width="1.3"/>
<rect x="779.9" y="640.6" width="10.9" height="10.9" fill="#ff0000" stroke="#300000" stroke-width="1.2"/>
<path d="M706.00 434.10V805.50H1138.78" fill="none" stroke="#3a3a3a" stroke-width="1.2"/>
<path d="M792.08 805.50v-4.3M878.75 805.50v-4.3M965.42 805.50v-4.3M1052.10 805.50v-4.3M1138.78 805.50v-4.3M706.00 727.35h4.3M706.00 649.20h4.3M706.00 571.05h4.3M706.00 492.90h4.3" fill="none" stroke="#3a3a3a" stroke-width="1.2"/>
<g font-size="19.90" text-anchor="middle">
<text x="705.4" y="833.8">0</text>
<text x="792.1" y="833.8">5</text>
<text x="878.8" y="833.8">10</text>
<text x="965.4" y="833.8">15</text>
<text x="1052.1" y="833.8">20</text>
<text x="1138.8" y="833.8">25</text>
</g><g font-size="19.90" text-anchor="end">
<text x="698.1" y="812.9">0</text>
<text x="698.1" y="734.8">5</text>
<text x="698.1" y="656.6">10</text>
<text x="698.1" y="578.4">15</text>
<text x="698.1" y="500.3">20</text>
</g>
<text font-size="21.40" text-anchor="middle" transform="translate(662.7 611.0) rotate(-90)">X Position</text>
<rect x="1167.30" y="434.10" width="30.60" height="377.00" fill="url(#jet)"/>
<rect x="1167.70" y="434.50" width="29.80" height="376.20" stroke="#000" stroke-opacity="0.45" stroke-width="1" fill="none"/>
<g font-size="17.60">
<text x="1205.8" y="775.0">0.2</text>
<text x="1205.8" y="730.5">0.4</text>
<text x="1205.8" y="686.0">0.6</text>
<text x="1205.8" y="641.5">0.8</text>
<text x="1205.8" y="597.1">1</text>
<text x="1205.8" y="552.6">1.2</text>
<text x="1205.8" y="508.1">1.4</text>
<text x="1205.8" y="463.6">1.6</text>
</g>
<path d="M1197.90 768.00h-4.8M1197.90 723.51h-4.8M1197.90 679.03h-4.8M1197.90 634.54h-4.8M1197.90 590.06h-4.8M1197.90 545.57h-4.8M1197.90 501.09h-4.8M1197.90 456.60h-4.8" stroke="#1a1a1a" stroke-opacity="0.85" stroke-width="1" fill="none"/>
<text font-size="17.60" text-anchor="middle" transform="translate(1254.7 612.8) rotate(-90)">Speed (m/s)</text>
</g>
<rect x="1" y="1" width="1271" height="848" rx="1.5" fill="none" stroke="#115c81" stroke-width="2"/>
</svg></body></html>
